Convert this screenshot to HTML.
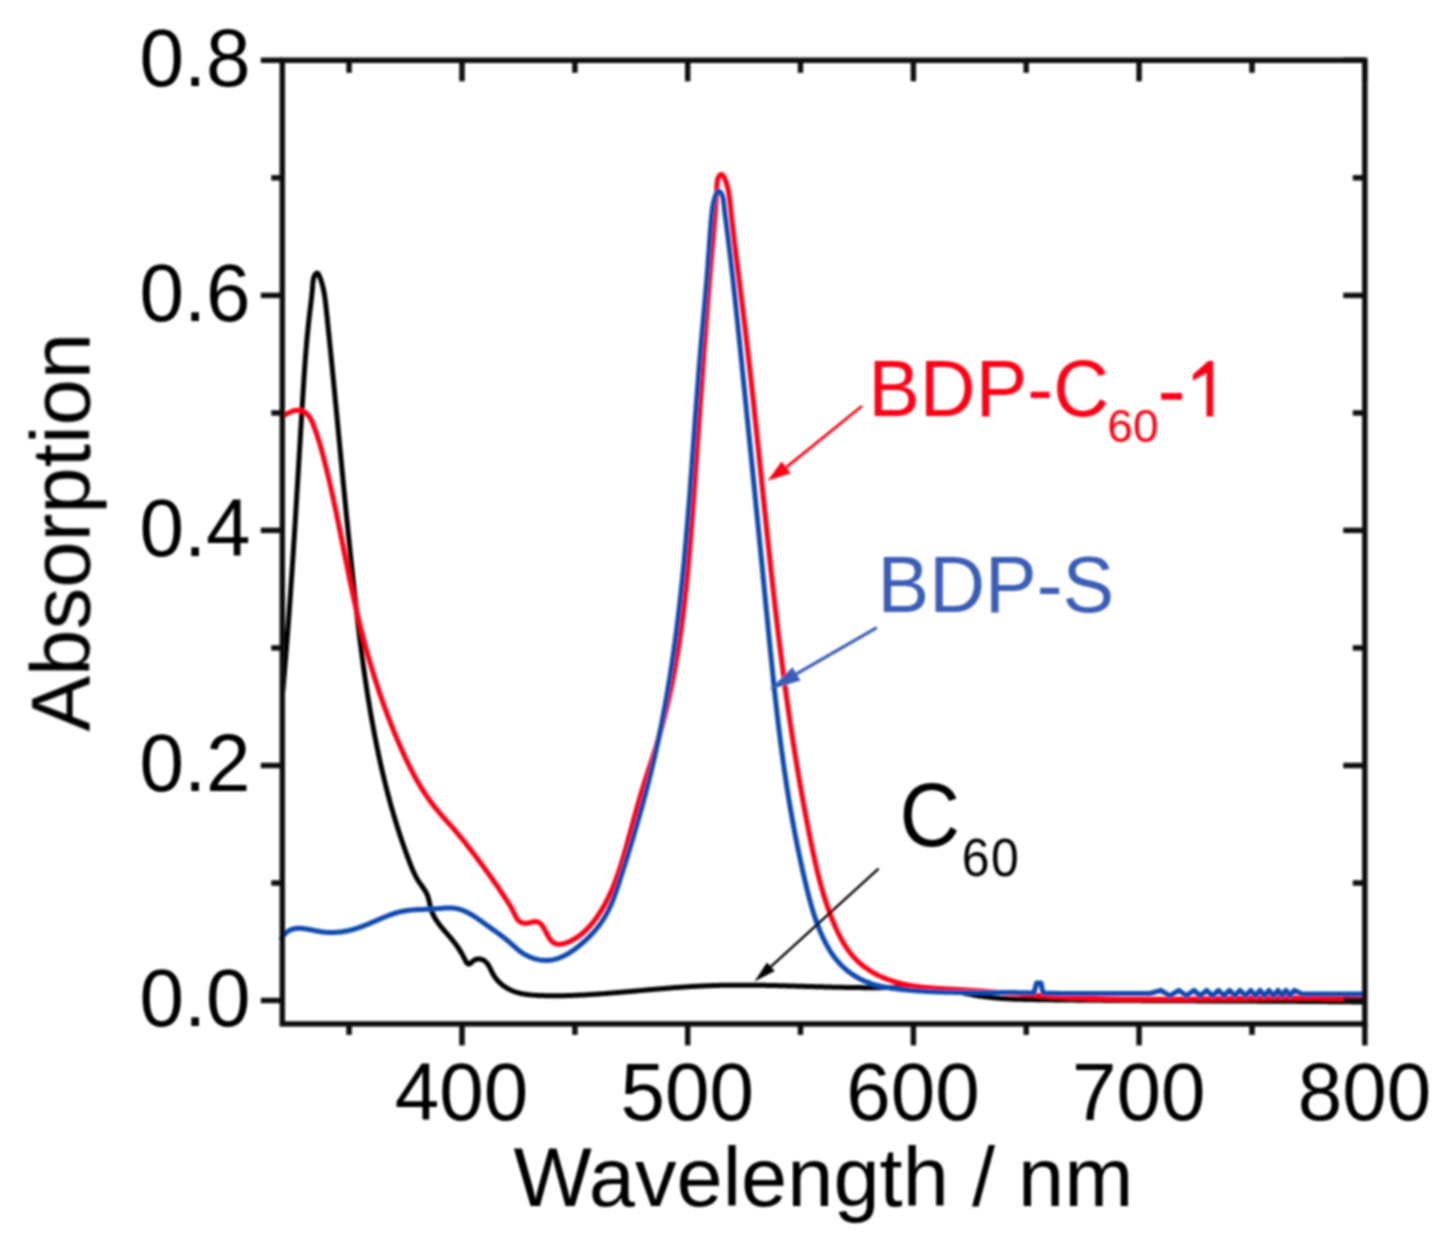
<!DOCTYPE html>
<html><head><meta charset="utf-8"><style>
html,body{margin:0;padding:0;background:#fff;}
body{width:1442px;height:1235px;overflow:hidden;font-family:"Liberation Sans",sans-serif;}
svg{display:block;}
</style></head><body>
<svg width="1442" height="1235" viewBox="0 0 1442 1235">
<defs><filter id="sf" x="-2%" y="-2%" width="104%" height="104%"><feGaussianBlur stdDeviation="0.80"/></filter></defs>
<rect width="100%" height="100%" fill="#fff"/>
<g filter="url(#sf)">
<g fill="none" stroke-linejoin="round" stroke-linecap="round">
<path d="M282.70,692.02 L282.83,690.52 L282.97,689.03 L283.10,687.53 L283.23,686.03 L283.36,684.54 L283.49,683.04 L283.62,681.54 L283.75,680.05 L283.88,678.55 L284.01,677.05 L284.14,675.56 L284.27,674.06 L284.40,672.56 L284.52,671.07 L284.65,669.57 L284.77,668.07 L284.90,666.58 L285.02,665.08 L285.15,663.59 L285.27,662.09 L285.40,660.60 L285.52,659.10 L285.64,657.60 L285.76,656.11 L285.88,654.61 L286.01,653.12 L286.13,651.62 L286.25,650.13 L286.37,648.63 L286.48,647.14 L286.60,645.64 L286.72,644.15 L286.84,642.65 L286.96,641.16 L287.07,639.66 L287.19,638.17 L287.30,636.67 L287.42,635.18 L287.53,633.68 L287.65,632.19 L287.76,630.69 L287.88,629.20 L287.99,627.70 L288.10,626.21 L288.22,624.71 L288.33,623.22 L288.44,621.72 L288.55,620.23 L288.66,618.73 L288.77,617.24 L288.88,615.74 L288.99,614.25 L289.10,612.76 L289.21,611.26 L289.32,609.77 L289.43,608.27 L289.54,606.78 L289.64,605.28 L289.75,603.79 L289.86,602.30 L289.96,600.80 L290.07,599.31 L290.18,597.81 L290.28,596.32 L290.39,594.82 L290.49,593.33 L290.60,591.84 L290.70,590.34 L290.80,588.85 L290.91,587.35 L291.01,585.86 L291.11,584.37 L291.22,582.87 L291.32,581.38 L291.42,579.88 L291.52,578.39 L291.62,576.90 L291.73,575.40 L291.83,573.91 L291.93,572.41 L292.03,570.92 L292.13,569.42 L292.23,567.93 L292.33,566.44 L292.43,564.94 L292.52,563.45 L292.62,561.95 L292.72,560.46 L292.82,558.97 L292.92,557.47 L293.02,555.98 L293.11,554.48 L293.21,552.99 L293.31,551.49 L293.40,550.00 L293.50,548.51 L293.60,547.01 L293.69,545.52 L293.79,544.02 L293.89,542.53 L293.98,541.03 L294.08,539.54 L294.17,538.05 L294.27,536.55 L294.36,535.06 L294.46,533.56 L294.55,532.07 L294.65,530.57 L294.74,529.08 L294.83,527.58 L294.93,526.09 L295.02,524.59 L295.11,523.10 L295.21,521.61 L295.30,520.11 L295.39,518.62 L295.49,517.12 L295.58,515.63 L295.67,514.13 L295.76,512.64 L295.86,511.14 L295.95,509.65 L296.04,508.15 L296.13,506.66 L296.22,505.16 L296.32,503.66 L296.41,502.17 L296.50,500.67 L296.59,499.18 L296.68,497.68 L296.77,496.19 L296.86,494.69 L296.96,493.20 L297.05,491.70 L297.14,490.20 L297.23,488.71 L297.32,487.21 L297.41,485.72 L297.50,484.22 L297.59,482.72 L297.68,481.23 L297.77,479.73 L297.86,478.24 L297.95,476.74 L298.04,475.24 L298.13,473.75 L298.22,472.25 L298.31,470.75 L298.40,469.26 L298.49,467.76 L298.58,466.26 L298.67,464.77 L298.76,463.27 L298.85,461.77 L298.94,460.27 L299.03,458.78 L299.12,457.28 L299.22,455.78 L299.31,454.28 L299.40,452.79 L299.49,451.29 L299.58,449.79 L299.67,448.29 L299.76,446.80 L299.85,445.30 L299.94,443.80 L300.03,442.30 L300.12,440.80 L300.21,439.30 L300.30,437.81 L300.39,436.31 L300.48,434.81 L300.57,433.31 L300.66,431.81 L300.75,430.31 L300.84,428.81 L300.93,427.31 L301.02,425.81 L301.12,424.31 L301.21,422.81 L301.30,421.31 L301.39,419.81 L301.48,418.31 L301.57,416.81 L301.66,415.31 L301.76,413.81 L301.85,412.31 L301.94,410.81 L302.03,409.31 L302.12,407.81 L302.22,406.31 L302.31,404.81 L302.40,403.31 L302.49,401.81 L302.59,400.31 L302.68,398.80 L302.77,397.30 L302.87,395.80 L302.96,394.30 L303.06,392.80 L303.15,391.30 L303.24,389.80 L303.34,388.29 L303.44,386.79 L303.53,385.29 L303.63,383.79 L303.73,382.29 L303.82,380.79 L303.92,379.29 L304.02,377.79 L304.12,376.29 L304.22,374.79 L304.32,373.29 L304.43,371.79 L304.53,370.29 L304.64,368.80 L304.74,367.30 L304.85,365.80 L304.96,364.31 L305.06,362.81 L305.17,361.32 L305.29,359.83 L305.40,358.33 L305.51,356.84 L305.63,355.35 L305.74,353.86 L305.86,352.37 L305.98,350.88 L306.10,349.39 L306.22,347.91 L306.35,346.42 L306.47,344.94 L306.60,343.45 L306.73,341.97 L306.86,340.49 L307.00,339.01 L307.13,337.53 L307.27,336.05 L307.40,334.58 L307.55,333.10 L307.69,331.63 L307.83,330.16 L307.98,328.68 L308.13,327.22 L308.28,325.75 L308.43,324.28 L308.59,322.82 L308.74,321.35 L308.90,319.89 L309.07,318.43 L309.23,316.97 L309.40,315.51 L309.57,314.06 L309.74,312.60 L309.92,311.15 L310.09,309.70 L310.27,308.25 L310.45,306.80 L310.64,305.34 L310.82,303.88 L311.00,302.40 L311.17,300.92 L311.35,299.42 L311.52,297.91 L311.69,296.38 L311.86,294.83 L312.02,293.26 L312.17,291.66 L312.32,290.04 L312.46,288.40 L312.59,286.72 L312.71,285.01 L312.84,283.29 L313.01,281.59 L313.24,279.94 L313.56,278.37 L313.98,276.91 L314.55,275.59 L315.28,274.44 L316.15,273.55 L317.05,273.13 L317.87,273.41 L318.56,274.32 L319.17,275.59 L319.74,276.94 L320.27,278.31 L320.77,279.69 L321.23,281.08 L321.67,282.48 L322.09,283.89 L322.47,285.31 L322.83,286.74 L323.17,288.17 L323.48,289.62 L323.78,291.07 L324.05,292.53 L324.31,294.00 L324.55,295.47 L324.78,296.94 L324.99,298.42 L325.19,299.91 L325.38,301.40 L325.56,302.89 L325.73,304.38 L325.90,305.88 L326.06,307.38 L326.22,308.88 L326.38,310.38 L326.54,311.87 L326.69,313.37 L326.85,314.87 L327.00,316.37 L327.16,317.87 L327.31,319.37 L327.47,320.87 L327.62,322.36 L327.78,323.86 L327.93,325.36 L328.08,326.86 L328.24,328.36 L328.39,329.85 L328.54,331.35 L328.70,332.85 L328.85,334.35 L329.00,335.84 L329.15,337.34 L329.30,338.84 L329.45,340.33 L329.61,341.83 L329.76,343.33 L329.91,344.82 L330.06,346.32 L330.21,347.82 L330.36,349.31 L330.51,350.81 L330.66,352.31 L330.81,353.80 L330.95,355.30 L331.10,356.79 L331.25,358.29 L331.40,359.78 L331.55,361.28 L331.70,362.77 L331.84,364.27 L331.99,365.76 L332.14,367.26 L332.29,368.75 L332.43,370.25 L332.58,371.74 L332.73,373.24 L332.87,374.73 L333.02,376.23 L333.17,377.72 L333.31,379.22 L333.46,380.71 L333.60,382.20 L333.75,383.70 L333.89,385.19 L334.04,386.69 L334.19,388.18 L334.33,389.67 L334.48,391.17 L334.62,392.66 L334.77,394.15 L334.91,395.65 L335.05,397.14 L335.20,398.63 L335.34,400.13 L335.49,401.62 L335.63,403.11 L335.78,404.60 L335.92,406.10 L336.06,407.59 L336.21,409.08 L336.35,410.57 L336.50,412.07 L336.64,413.56 L336.78,415.05 L336.93,416.54 L337.07,418.04 L337.21,419.53 L337.36,421.02 L337.50,422.51 L337.64,424.00 L337.79,425.50 L337.93,426.99 L338.07,428.48 L338.22,429.97 L338.36,431.46 L338.50,432.95 L338.64,434.45 L338.79,435.94 L338.93,437.43 L339.07,438.92 L339.22,440.41 L339.36,441.90 L339.50,443.39 L339.65,444.89 L339.79,446.38 L339.93,447.87 L340.08,449.36 L340.22,450.85 L340.36,452.34 L340.50,453.83 L340.65,455.32 L340.79,456.81 L340.93,458.30 L341.08,459.79 L341.22,461.28 L341.36,462.78 L341.51,464.27 L341.65,465.76 L341.80,467.25 L341.94,468.74 L342.08,470.23 L342.23,471.72 L342.37,473.21 L342.51,474.70 L342.66,476.19 L342.80,477.68 L342.95,479.17 L343.09,480.66 L343.24,482.15 L343.38,483.64 L343.52,485.13 L343.67,486.62 L343.81,488.11 L343.96,489.60 L344.10,491.09 L344.25,492.58 L344.40,494.07 L344.54,495.56 L344.69,497.05 L344.83,498.54 L344.98,500.03 L345.12,501.52 L345.27,503.01 L345.42,504.50 L345.56,505.99 L345.71,507.48 L345.86,508.97 L346.00,510.46 L346.15,511.95 L346.30,513.44 L346.45,514.93 L346.59,516.42 L346.74,517.91 L346.89,519.40 L347.04,520.89 L347.19,522.38 L347.34,523.87 L347.48,525.36 L347.63,526.85 L347.78,528.34 L347.93,529.83 L348.08,531.32 L348.23,532.81 L348.38,534.30 L348.53,535.79 L348.68,537.28 L348.84,538.77 L348.99,540.26 L349.14,541.75 L349.29,543.24 L349.44,544.73 L349.59,546.22 L349.75,547.71 L349.90,549.20 L350.05,550.69 L350.21,552.18 L350.36,553.67 L350.51,555.16 L350.67,556.65 L350.82,558.14 L350.98,559.63 L351.13,561.12 L351.29,562.61 L351.44,564.10 L351.60,565.59 L351.75,567.08 L351.91,568.57 L352.07,570.06 L352.22,571.55 L352.38,573.04 L352.54,574.53 L352.70,576.02 L352.86,577.51 L353.01,579.00 L353.17,580.49 L353.33,581.98 L353.49,583.47 L353.65,584.96 L353.81,586.45 L353.97,587.94 L354.14,589.43 L354.30,590.92 L354.46,592.42 L354.62,593.91 L354.79,595.40 L354.95,596.89 L355.11,598.38 L355.28,599.87 L355.44,601.36 L355.61,602.85 L355.78,604.34 L355.94,605.83 L356.11,607.32 L356.28,608.81 L356.45,610.30 L356.62,611.79 L356.79,613.28 L356.96,614.77 L357.13,616.26 L357.30,617.75 L357.47,619.24 L357.65,620.73 L357.82,622.22 L358.00,623.71 L358.17,625.20 L358.35,626.69 L358.53,628.18 L358.71,629.67 L358.89,631.16 L359.07,632.65 L359.25,634.14 L359.43,635.63 L359.61,637.12 L359.80,638.61 L359.98,640.10 L360.17,641.58 L360.36,643.07 L360.55,644.56 L360.73,646.05 L360.93,647.54 L361.12,649.03 L361.31,650.51 L361.50,652.00 L361.70,653.49 L361.89,654.98 L362.09,656.46 L362.29,657.95 L362.49,659.44 L362.69,660.92 L362.89,662.41 L363.09,663.89 L363.30,665.38 L363.50,666.87 L363.71,668.35 L363.92,669.84 L364.13,671.32 L364.34,672.81 L364.55,674.29 L364.76,675.78 L364.98,677.26 L365.19,678.74 L365.41,680.23 L365.63,681.71 L365.85,683.19 L366.07,684.68 L366.30,686.16 L366.52,687.64 L366.75,689.12 L366.97,690.61 L367.20,692.09 L367.44,693.57 L367.67,695.05 L367.90,696.53 L368.14,698.01 L368.38,699.49 L368.61,700.97 L368.86,702.45 L369.10,703.93 L369.34,705.41 L369.59,706.89 L369.84,708.36 L370.09,709.84 L370.34,711.32 L370.59,712.80 L370.84,714.27 L371.10,715.75 L371.36,717.23 L371.62,718.70 L371.88,720.18 L372.15,721.65 L372.41,723.13 L372.68,724.60 L372.95,726.07 L373.22,727.55 L373.49,729.02 L373.77,730.49 L374.05,731.97 L374.33,733.44 L374.61,734.91 L374.89,736.38 L375.18,737.85 L375.47,739.32 L375.75,740.79 L376.05,742.26 L376.34,743.73 L376.64,745.20 L376.94,746.67 L377.24,748.13 L377.54,749.60 L377.84,751.07 L378.15,752.54 L378.46,754.00 L378.77,755.47 L379.09,756.93 L379.40,758.40 L379.72,759.86 L380.04,761.32 L380.36,762.79 L380.69,764.25 L381.02,765.71 L381.35,767.17 L381.68,768.63 L382.02,770.09 L382.36,771.55 L382.70,773.01 L383.04,774.47 L383.38,775.93 L383.73,777.38 L384.08,778.84 L384.44,780.29 L384.79,781.75 L385.15,783.20 L385.51,784.66 L385.87,786.11 L386.24,787.56 L386.61,789.01 L386.98,790.46 L387.36,791.91 L387.73,793.36 L388.11,794.81 L388.50,796.26 L388.88,797.71 L389.27,799.15 L389.66,800.60 L390.05,802.04 L390.45,803.49 L390.85,804.93 L391.25,806.37 L391.66,807.81 L392.07,809.25 L392.48,810.69 L392.90,812.13 L393.31,813.57 L393.73,815.00 L394.16,816.44 L394.59,817.88 L395.02,819.31 L395.45,820.74 L395.88,822.17 L396.32,823.61 L396.77,825.04 L397.21,826.46 L397.66,827.89 L398.11,829.32 L398.57,830.75 L399.03,832.17 L399.49,833.59 L399.96,835.02 L400.43,836.44 L400.90,837.86 L401.37,839.28 L401.85,840.70 L402.33,842.11 L402.82,843.53 L403.31,844.95 L403.80,846.36 L404.30,847.77 L404.80,849.18 L405.30,850.60 L405.81,852.00 L406.32,853.41 L406.83,854.82 L407.35,856.23 L407.87,857.63 L408.39,859.03 L408.92,860.44 L409.45,861.84 L409.99,863.24 L410.53,864.63 L411.08,866.03 L411.64,867.42 L412.21,868.80 L412.79,870.18 L413.39,871.55 L414.01,872.91 L414.66,874.26 L415.33,875.60 L416.02,876.92 L416.75,878.23 L417.51,879.53 L418.30,880.80 L419.13,882.06 L419.99,883.31 L420.87,884.55 L421.75,885.78 L422.63,887.02 L423.49,888.26 L424.32,889.52 L425.12,890.79 L425.88,892.09 L426.57,893.41 L427.19,894.77 L427.74,896.16 L428.21,897.59 L428.63,899.04 L429.00,900.52 L429.35,902.01 L429.67,903.51 L430.00,905.01 L430.34,906.50 L430.70,907.98 L431.10,909.44 L431.56,910.88 L432.08,912.28 L432.66,913.66 L433.28,915.01 L433.96,916.34 L434.68,917.65 L435.44,918.93 L436.23,920.19 L437.07,921.43 L437.93,922.65 L438.82,923.86 L439.73,925.05 L440.66,926.23 L441.61,927.39 L442.57,928.54 L443.54,929.68 L444.52,930.82 L445.50,931.94 L446.47,933.06 L447.44,934.18 L448.40,935.29 L449.36,936.39 L450.30,937.51 L451.23,938.62 L452.15,939.74 L453.06,940.87 L453.96,942.01 L454.86,943.17 L455.74,944.34 L456.61,945.53 L457.47,946.75 L458.32,947.99 L459.15,949.25 L459.98,950.55 L460.80,951.88 L461.61,953.24 L462.40,954.65 L463.19,956.09 L463.96,957.57 L464.73,959.11 L465.48,960.64 L466.26,962.05 L467.07,963.20 L467.95,963.93 L468.90,964.12 L469.96,963.67 L471.11,962.78 L472.34,961.67 L473.65,960.59 L475.02,959.75 L476.44,959.21 L477.88,958.94 L479.32,958.93 L480.74,959.14 L482.12,959.56 L483.43,960.17 L484.65,960.95 L485.76,961.86 L486.75,962.90 L487.65,964.04 L488.47,965.27 L489.22,966.57 L489.93,967.92 L490.62,969.31 L491.29,970.71 L491.98,972.12 L492.69,973.52 L493.45,974.88 L494.27,976.20 L495.14,977.48 L496.07,978.71 L497.04,979.89 L498.06,981.04 L499.13,982.13 L500.24,983.18 L501.38,984.18 L502.56,985.13 L503.78,986.04 L505.02,986.90 L506.30,987.71 L507.59,988.47 L508.91,989.18 L510.25,989.84 L511.60,990.46 L512.97,991.02 L514.35,991.54 L515.75,992.02 L517.16,992.46 L518.58,992.85 L520.01,993.21 L521.46,993.54 L522.91,993.83 L524.37,994.09 L525.84,994.32 L527.32,994.53 L528.81,994.71 L530.30,994.87 L531.79,995.00 L533.29,995.12 L534.79,995.23 L536.29,995.31 L537.80,995.39 L539.30,995.46 L540.81,995.51 L542.32,995.56 L543.82,995.61 L545.32,995.65 L546.83,995.68 L548.33,995.70 L549.83,995.72 L551.33,995.74 L552.83,995.75 L554.33,995.75 L555.83,995.75 L557.33,995.74 L558.83,995.73 L560.33,995.71 L561.83,995.69 L563.32,995.67 L564.82,995.63 L566.32,995.60 L567.81,995.56 L569.31,995.51 L570.81,995.47 L572.30,995.41 L573.80,995.36 L575.29,995.30 L576.79,995.24 L578.28,995.17 L579.78,995.10 L581.27,995.03 L582.77,994.95 L584.26,994.88 L585.76,994.79 L587.25,994.71 L588.75,994.62 L590.24,994.53 L591.74,994.44 L593.23,994.35 L594.73,994.25 L596.22,994.15 L597.72,994.05 L599.21,993.95 L600.71,993.84 L602.20,993.74 L603.70,993.63 L605.19,993.52 L606.69,993.40 L608.18,993.29 L609.68,993.17 L611.18,993.06 L612.67,992.94 L614.17,992.82 L615.66,992.70 L617.16,992.57 L618.65,992.45 L620.15,992.32 L621.64,992.20 L623.14,992.07 L624.63,991.94 L626.13,991.81 L627.62,991.68 L629.12,991.55 L630.61,991.42 L632.11,991.29 L633.60,991.16 L635.10,991.03 L636.59,990.90 L638.09,990.76 L639.58,990.63 L641.08,990.50 L642.57,990.37 L644.07,990.23 L645.56,990.10 L647.06,989.97 L648.55,989.84 L650.05,989.71 L651.54,989.57 L653.04,989.44 L654.53,989.32 L656.03,989.19 L657.52,989.06 L659.02,988.93 L660.52,988.81 L662.01,988.68 L663.51,988.56 L665.00,988.43 L666.50,988.31 L667.99,988.19 L669.49,988.07 L670.98,987.96 L672.48,987.84 L673.97,987.72 L675.47,987.61 L676.97,987.50 L678.46,987.39 L679.96,987.29 L681.45,987.18 L682.95,987.08 L684.45,986.98 L685.94,986.88 L687.44,986.78 L688.93,986.69 L690.43,986.60 L691.92,986.51 L693.42,986.42 L694.92,986.34 L696.41,986.26 L697.91,986.18 L699.41,986.10 L700.90,986.03 L702.40,985.96 L703.89,985.90 L705.39,985.83 L706.89,985.77 L708.38,985.72 L709.88,985.66 L711.38,985.61 L712.87,985.56 L714.37,985.52 L715.87,985.48 L717.36,985.44 L718.86,985.40 L720.36,985.37 L721.85,985.34 L723.35,985.31 L724.85,985.28 L726.34,985.26 L727.84,985.24 L729.34,985.22 L730.83,985.20 L732.33,985.19 L733.83,985.18 L735.32,985.17 L736.82,985.16 L738.32,985.15 L739.82,985.15 L741.31,985.15 L742.81,985.15 L744.31,985.15 L745.81,985.16 L747.30,985.17 L748.80,985.17 L750.30,985.18 L751.80,985.20 L753.29,985.21 L754.79,985.23 L756.29,985.24 L757.79,985.26 L759.28,985.28 L760.78,985.30 L762.28,985.33 L763.78,985.35 L765.27,985.37 L766.77,985.40 L768.27,985.43 L769.77,985.46 L771.27,985.49 L772.76,985.52 L774.26,985.55 L775.76,985.59 L777.26,985.62 L778.76,985.66 L780.26,985.69 L781.75,985.73 L783.25,985.77 L784.75,985.80 L786.25,985.84 L787.75,985.88 L789.25,985.92 L790.74,985.96 L792.24,986.00 L793.74,986.05 L795.24,986.09 L796.74,986.13 L798.24,986.17 L799.74,986.22 L801.23,986.26 L802.73,986.30 L804.23,986.35 L805.73,986.39 L807.23,986.43 L808.73,986.48 L810.23,986.52 L811.73,986.56 L813.22,986.61 L814.72,986.65 L816.22,986.69 L817.72,986.73 L819.22,986.78 L820.72,986.82 L822.22,986.86 L823.72,986.90 L825.22,986.94 L826.72,986.98 L828.22,987.02 L829.72,987.06 L831.22,987.09 L832.71,987.13 L834.21,987.17 L835.71,987.20 L837.21,987.24 L838.71,987.27 L840.21,987.30 L841.71,987.33 L843.21,987.36 L844.71,987.39 L846.21,987.42 L847.71,987.45 L849.21,987.47 L850.71,987.50 L852.21,987.52 L853.71,987.54 L855.21,987.56 L856.71,987.58 L858.21,987.59 L859.71,987.61 L861.21,987.62 L862.71,987.64 L864.21,987.65 L865.71,987.65 L867.21,987.66 L868.71,987.67 L870.21,987.67 L871.71,987.67 L873.21,987.67 L874.71,987.66 L876.21,987.66 L877.71,987.65 L879.21,987.64 L880.71,987.63 L882.21,987.62 L883.71,987.60 L885.21,987.59 L886.71,987.58 L888.21,987.56 L889.71,987.54 L891.21,987.53 L892.71,987.52 L894.21,987.50 L895.71,987.49 L897.21,987.48 L898.71,987.47 L900.21,987.46 L901.71,987.46 L903.21,987.46 L904.71,987.46 L906.20,987.47 L907.70,987.47 L909.20,987.49 L910.69,987.50 L912.19,987.52 L913.69,987.55 L915.18,987.58 L916.68,987.62 L918.17,987.66 L919.67,987.71 L921.16,987.76 L922.65,987.83 L924.15,987.89 L925.64,987.97 L927.13,988.05 L928.62,988.14 L930.11,988.24 L931.60,988.35 L933.09,988.47 L934.58,988.59 L936.07,988.73 L937.55,988.87 L939.04,989.02 L940.53,989.19 L942.01,989.36 L943.49,989.55 L944.98,989.75 L946.46,989.95 L947.94,990.17 L949.42,990.40 L950.90,990.65 L952.38,990.90 L953.86,991.17 L955.34,991.44 L956.82,991.73 L958.29,992.01 L959.77,992.31 L961.25,992.60 L962.72,992.90 L964.20,993.20 L965.68,993.50 L967.16,993.79 L968.63,994.09 L970.11,994.37 L971.59,994.66 L973.07,994.93 L974.55,995.20 L976.03,995.45 L977.51,995.70 L978.99,995.93 L980.47,996.16 L981.96,996.37 L983.44,996.58 L984.93,996.77 L986.41,996.96 L987.90,997.14 L989.39,997.31 L990.88,997.47 L992.37,997.62 L993.85,997.77 L995.34,997.91 L996.84,998.04 L998.33,998.16 L999.82,998.28 L1001.31,998.39 L1002.80,998.50 L1004.30,998.59 L1005.79,998.69 L1007.28,998.77 L1008.78,998.85 L1010.27,998.93 L1011.77,999.00 L1013.26,999.06 L1014.76,999.13 L1016.26,999.18 L1017.75,999.24 L1019.25,999.29 L1020.75,999.33 L1022.25,999.37 L1023.74,999.41 L1025.24,999.45 L1026.74,999.48 L1028.24,999.51 L1029.74,999.54 L1031.24,999.57 L1032.73,999.60 L1034.23,999.62 L1035.73,999.65 L1037.23,999.67 L1038.73,999.69 L1040.23,999.71 L1041.73,999.73 L1043.23,999.75 L1044.73,999.77 L1046.23,999.79 L1047.72,999.81 L1049.22,999.83 L1050.72,999.85 L1052.22,999.87 L1053.72,999.89 L1055.22,999.91 L1056.72,999.92 L1058.22,999.94 L1059.72,999.96 L1061.22,999.98 L1062.71,999.99 L1064.21,1000.01 L1065.71,1000.03 L1067.21,1000.04 L1068.71,1000.06 L1070.21,1000.08 L1071.71,1000.09 L1073.21,1000.11 L1074.71,1000.12 L1076.21,1000.14 L1077.70,1000.15 L1079.20,1000.17 L1080.70,1000.18 L1082.20,1000.20 L1083.70,1000.21 L1085.20,1000.23 L1086.70,1000.24 L1088.20,1000.25 L1089.70,1000.27 L1091.20,1000.28 L1092.69,1000.29 L1094.19,1000.31 L1095.69,1000.32 L1097.19,1000.33 L1098.69,1000.34 L1100.19,1000.35 L1101.69,1000.37 L1103.19,1000.38 L1104.69,1000.39 L1106.19,1000.40 L1107.68,1000.41 L1109.18,1000.42 L1110.68,1000.43 L1112.18,1000.44 L1113.68,1000.45 L1115.18,1000.47 L1116.68,1000.48 L1118.18,1000.49 L1119.68,1000.50 L1121.18,1000.51 L1122.67,1000.52 L1124.17,1000.52 L1125.67,1000.53 L1127.17,1000.54 L1128.67,1000.55 L1130.17,1000.56 L1131.67,1000.57 L1133.17,1000.58 L1134.67,1000.59 L1136.17,1000.60 L1137.66,1000.60 L1139.16,1000.61 L1140.66,1000.62 L1142.16,1000.63 L1143.66,1000.64 L1145.16,1000.65 L1146.66,1000.65 L1148.16,1000.66 L1149.66,1000.67 L1151.16,1000.68 L1152.65,1000.68 L1154.15,1000.69 L1155.65,1000.70 L1157.15,1000.70 L1158.65,1000.71 L1160.15,1000.72 L1161.65,1000.73 L1163.15,1000.73 L1164.65,1000.74 L1166.14,1000.75 L1167.64,1000.75 L1169.14,1000.76 L1170.64,1000.77 L1172.14,1000.77 L1173.64,1000.78 L1175.14,1000.79 L1176.64,1000.79 L1178.14,1000.80 L1179.64,1000.80 L1181.13,1000.81 L1182.63,1000.82 L1184.13,1000.82 L1185.63,1000.83 L1187.13,1000.83 L1188.63,1000.84 L1190.13,1000.85 L1191.63,1000.85 L1193.13,1000.86 L1194.62,1000.86 L1196.12,1000.87 L1197.62,1000.88 L1199.12,1000.88 L1200.62,1000.89 L1202.12,1000.89 L1203.62,1000.90 L1205.12,1000.91 L1206.62,1000.91 L1208.12,1000.92 L1209.61,1000.92 L1211.11,1000.93 L1212.61,1000.94 L1214.11,1000.94 L1215.61,1000.95 L1217.11,1000.95 L1218.61,1000.96 L1220.11,1000.97 L1221.61,1000.97 L1223.10,1000.98 L1224.60,1000.98 L1226.10,1000.99 L1227.60,1001.00 L1229.10,1001.00 L1230.60,1001.01 L1232.10,1001.02 L1233.60,1001.02 L1235.10,1001.03 L1236.59,1001.03 L1238.09,1001.04 L1239.59,1001.05 L1241.09,1001.05 L1242.59,1001.06 L1244.09,1001.07 L1245.59,1001.07 L1247.09,1001.08 L1248.59,1001.09 L1250.08,1001.10 L1251.58,1001.10 L1253.08,1001.11 L1254.58,1001.12 L1256.08,1001.12 L1257.58,1001.13 L1259.08,1001.14 L1260.58,1001.15 L1262.08,1001.16 L1263.57,1001.16 L1265.07,1001.17 L1266.57,1001.18 L1268.07,1001.19 L1269.57,1001.20 L1271.07,1001.20 L1272.57,1001.21 L1274.07,1001.22 L1275.57,1001.23 L1277.06,1001.24 L1278.56,1001.25 L1280.06,1001.26 L1281.56,1001.27 L1283.06,1001.28 L1284.56,1001.28 L1286.06,1001.29 L1287.56,1001.30 L1289.06,1001.31 L1290.55,1001.32 L1292.05,1001.33 L1293.55,1001.34 L1295.05,1001.36 L1296.55,1001.37 L1298.05,1001.38 L1299.55,1001.39 L1301.05,1001.40 L1302.55,1001.41 L1304.04,1001.42 L1305.54,1001.43 L1307.04,1001.45 L1308.54,1001.46 L1310.04,1001.47 L1311.54,1001.48 L1313.04,1001.49 L1314.54,1001.51 L1316.04,1001.52 L1317.53,1001.53 L1319.03,1001.55 L1320.53,1001.56 L1322.03,1001.57 L1323.53,1001.59 L1325.03,1001.60 L1326.53,1001.62 L1328.03,1001.63 L1329.53,1001.64 L1331.02,1001.66 L1332.52,1001.67 L1334.02,1001.69 L1335.52,1001.71 L1337.02,1001.72 L1338.52,1001.74 L1340.02,1001.75 L1341.52,1001.77 L1343.02,1001.79 L1344.51,1001.80 L1346.01,1001.82 L1347.51,1001.84 L1349.01,1001.86 L1350.51,1001.87 L1352.01,1001.89 L1353.51,1001.91 L1355.01,1001.93 L1356.51,1001.95 L1358.00,1001.97 L1359.50,1001.99 L1361.00,1002.01 L1362.50,1002.03 L1364.00,1002.05" stroke="#000000" stroke-width="5.0"/>
<path d="M282.51,416.00 L283.78,415.43 L285.08,414.78 L286.41,414.07 L287.77,413.34 L289.16,412.63 L290.57,411.95 L292.00,411.35 L293.46,410.86 L294.94,410.50 L296.45,410.31 L297.95,410.29 L299.45,410.42 L300.91,410.70 L302.33,411.13 L303.67,411.71 L304.93,412.41 L306.09,413.24 L307.15,414.18 L308.13,415.22 L309.02,416.36 L309.84,417.57 L310.60,418.85 L311.30,420.19 L311.96,421.57 L312.57,422.99 L313.16,424.43 L313.73,425.87 L314.28,427.32 L314.82,428.77 L315.34,430.21 L315.85,431.66 L316.35,433.10 L316.84,434.54 L317.32,435.99 L317.79,437.43 L318.25,438.87 L318.69,440.31 L319.13,441.75 L319.57,443.19 L319.99,444.63 L320.41,446.07 L320.82,447.52 L321.22,448.96 L321.62,450.40 L322.01,451.84 L322.40,453.28 L322.78,454.73 L323.16,456.17 L323.54,457.61 L323.91,459.06 L324.29,460.50 L324.65,461.95 L325.02,463.40 L325.39,464.85 L325.75,466.29 L326.11,467.74 L326.46,469.19 L326.82,470.65 L327.17,472.10 L327.52,473.55 L327.87,475.00 L328.21,476.46 L328.55,477.91 L328.90,479.37 L329.23,480.82 L329.57,482.28 L329.91,483.74 L330.24,485.19 L330.57,486.65 L330.90,488.11 L331.23,489.57 L331.56,491.03 L331.88,492.49 L332.20,493.95 L332.53,495.41 L332.85,496.88 L333.16,498.34 L333.48,499.80 L333.80,501.26 L334.11,502.73 L334.42,504.19 L334.74,505.66 L335.05,507.12 L335.36,508.59 L335.66,510.05 L335.97,511.52 L336.28,512.99 L336.58,514.45 L336.89,515.92 L337.19,517.39 L337.49,518.86 L337.79,520.33 L338.09,521.79 L338.39,523.26 L338.69,524.73 L338.99,526.20 L339.29,527.67 L339.59,529.14 L339.88,530.61 L340.18,532.08 L340.48,533.55 L340.77,535.02 L341.07,536.49 L341.36,537.96 L341.66,539.43 L341.95,540.91 L342.25,542.38 L342.54,543.85 L342.83,545.32 L343.13,546.79 L343.42,548.26 L343.72,549.73 L344.01,551.21 L344.31,552.68 L344.60,554.15 L344.90,555.62 L345.19,557.09 L345.49,558.56 L345.78,560.04 L346.08,561.51 L346.38,562.98 L346.67,564.45 L346.97,565.92 L347.27,567.39 L347.57,568.86 L347.87,570.34 L348.17,571.81 L348.47,573.28 L348.77,574.75 L349.07,576.22 L349.38,577.69 L349.68,579.16 L349.99,580.63 L350.30,582.10 L350.60,583.57 L350.91,585.04 L351.22,586.50 L351.53,587.97 L351.85,589.44 L352.16,590.91 L352.48,592.38 L352.79,593.84 L353.11,595.31 L353.43,596.78 L353.75,598.24 L354.07,599.71 L354.40,601.18 L354.72,602.64 L355.05,604.11 L355.38,605.57 L355.71,607.03 L356.04,608.50 L356.38,609.96 L356.71,611.42 L357.05,612.88 L357.39,614.35 L357.74,615.81 L358.08,617.27 L358.43,618.73 L358.78,620.19 L359.13,621.64 L359.48,623.10 L359.84,624.56 L360.20,626.02 L360.56,627.47 L360.92,628.93 L361.28,630.38 L361.65,631.84 L362.02,633.29 L362.39,634.75 L362.77,636.20 L363.14,637.65 L363.52,639.10 L363.90,640.55 L364.29,642.00 L364.67,643.45 L365.06,644.90 L365.45,646.35 L365.85,647.80 L366.24,649.24 L366.64,650.69 L367.04,652.13 L367.45,653.58 L367.85,655.02 L368.26,656.46 L368.67,657.91 L369.09,659.35 L369.50,660.79 L369.92,662.23 L370.34,663.66 L370.77,665.10 L371.20,666.54 L371.63,667.98 L372.06,669.41 L372.49,670.85 L372.93,672.28 L373.37,673.71 L373.82,675.14 L374.26,676.57 L374.71,678.00 L375.16,679.43 L375.62,680.86 L376.07,682.29 L376.53,683.72 L377.00,685.14 L377.46,686.57 L377.93,687.99 L378.40,689.41 L378.88,690.83 L379.36,692.25 L379.84,693.67 L380.32,695.09 L380.81,696.51 L381.29,697.93 L381.79,699.34 L382.28,700.76 L382.78,702.17 L383.28,703.58 L383.79,704.99 L384.29,706.40 L384.80,707.81 L385.32,709.22 L385.83,710.63 L386.35,712.03 L386.88,713.44 L387.40,714.84 L387.93,716.24 L388.46,717.65 L389.00,719.05 L389.54,720.44 L390.08,721.84 L390.62,723.24 L391.17,724.63 L391.72,726.03 L392.28,727.42 L392.84,728.81 L393.40,730.20 L393.96,731.59 L394.53,732.98 L395.10,734.37 L395.68,735.75 L396.26,737.14 L396.84,738.52 L397.42,739.90 L398.01,741.28 L398.60,742.66 L399.20,744.04 L399.80,745.42 L400.40,746.79 L401.00,748.17 L401.61,749.54 L402.23,750.91 L402.84,752.28 L403.46,753.65 L404.09,755.02 L404.71,756.38 L405.35,757.74 L405.98,759.10 L406.63,760.46 L407.27,761.82 L407.92,763.17 L408.58,764.52 L409.24,765.86 L409.91,767.21 L410.59,768.55 L411.26,769.89 L411.95,771.22 L412.64,772.55 L413.34,773.88 L414.04,775.20 L414.76,776.52 L415.47,777.83 L416.20,779.14 L416.93,780.44 L417.67,781.74 L418.42,783.04 L419.17,784.33 L419.94,785.61 L420.71,786.89 L421.49,788.17 L422.28,789.44 L423.07,790.70 L423.88,791.96 L424.69,793.21 L425.51,794.45 L426.35,795.69 L427.19,796.93 L428.04,798.15 L428.90,799.37 L429.77,800.58 L430.65,801.79 L431.54,802.99 L432.44,804.18 L433.36,805.36 L434.28,806.54 L435.21,807.71 L436.16,808.87 L437.11,810.02 L438.07,811.17 L439.03,812.32 L440.01,813.46 L440.99,814.59 L441.97,815.73 L442.96,816.85 L443.96,817.98 L444.95,819.10 L445.95,820.22 L446.95,821.34 L447.95,822.46 L448.95,823.58 L449.95,824.70 L450.94,825.83 L451.94,826.95 L452.93,828.07 L453.92,829.20 L454.90,830.33 L455.88,831.46 L456.85,832.60 L457.81,833.74 L458.77,834.88 L459.73,836.03 L460.68,837.18 L461.62,838.33 L462.56,839.49 L463.50,840.65 L464.43,841.81 L465.36,842.98 L466.29,844.15 L467.21,845.32 L468.12,846.50 L469.04,847.68 L469.95,848.86 L470.86,850.04 L471.77,851.22 L472.67,852.41 L473.58,853.60 L474.48,854.80 L475.38,855.99 L476.28,857.19 L477.18,858.39 L478.07,859.59 L478.97,860.79 L479.86,861.99 L480.76,863.20 L481.65,864.41 L482.54,865.62 L483.43,866.83 L484.32,868.04 L485.20,869.26 L486.09,870.48 L486.97,871.69 L487.85,872.91 L488.73,874.13 L489.60,875.36 L490.48,876.58 L491.35,877.80 L492.22,879.03 L493.08,880.26 L493.95,881.48 L494.81,882.71 L495.66,883.94 L496.52,885.17 L497.37,886.41 L498.22,887.64 L499.07,888.87 L499.91,890.11 L500.75,891.34 L501.58,892.58 L502.41,893.81 L503.24,895.05 L504.06,896.29 L504.88,897.53 L505.70,898.76 L506.51,900.00 L507.32,901.24 L508.12,902.49 L508.91,903.74 L509.69,905.01 L510.46,906.31 L511.22,907.62 L511.97,908.97 L512.69,910.35 L513.40,911.77 L514.09,913.22 L514.79,914.69 L515.50,916.13 L516.25,917.52 L517.06,918.82 L517.95,920.00 L518.93,921.03 L520.03,921.88 L521.26,922.51 L522.61,922.93 L524.05,923.16 L525.57,923.22 L527.12,923.11 L528.70,922.86 L530.28,922.51 L531.83,922.13 L533.33,921.80 L534.77,921.59 L536.12,921.59 L537.37,921.84 L538.52,922.31 L539.60,922.99 L540.60,923.85 L541.54,924.87 L542.43,926.02 L543.27,927.29 L544.08,928.64 L544.87,930.06 L545.65,931.52 L546.42,933.01 L547.19,934.48 L547.98,935.94 L548.80,937.34 L549.65,938.67 L550.54,939.90 L551.49,941.02 L552.50,941.99 L553.59,942.80 L554.75,943.43 L556.00,943.87 L557.31,944.14 L558.68,944.25 L560.09,944.22 L561.55,944.05 L563.04,943.77 L564.54,943.37 L566.06,942.88 L567.58,942.31 L569.09,941.67 L570.58,940.96 L572.04,940.22 L573.47,939.44 L574.85,938.63 L576.19,937.80 L577.50,936.94 L578.76,936.06 L579.99,935.16 L581.19,934.24 L582.35,933.29 L583.49,932.33 L584.59,931.34 L585.67,930.33 L586.72,929.30 L587.75,928.26 L588.76,927.20 L589.74,926.11 L590.71,925.01 L591.66,923.90 L592.60,922.77 L593.52,921.62 L594.43,920.46 L595.32,919.28 L596.19,918.09 L597.05,916.89 L597.90,915.67 L598.73,914.44 L599.55,913.19 L600.36,911.94 L601.15,910.67 L601.92,909.40 L602.69,908.11 L603.44,906.81 L604.18,905.50 L604.90,904.19 L605.61,902.86 L606.31,901.53 L607.00,900.19 L607.67,898.84 L608.34,897.49 L608.99,896.13 L609.63,894.77 L610.26,893.40 L610.87,892.02 L611.48,890.64 L612.07,889.26 L612.66,887.87 L613.23,886.48 L613.80,885.09 L614.35,883.69 L614.90,882.29 L615.43,880.89 L615.96,879.48 L616.48,878.07 L616.99,876.66 L617.49,875.25 L617.98,873.84 L618.47,872.42 L618.95,871.00 L619.42,869.57 L619.89,868.15 L620.35,866.72 L620.80,865.30 L621.25,863.87 L621.70,862.43 L622.13,861.00 L622.57,859.57 L622.99,858.13 L623.42,856.69 L623.84,855.26 L624.26,853.82 L624.67,852.38 L625.08,850.94 L625.49,849.49 L625.89,848.05 L626.29,846.61 L626.69,845.17 L627.09,843.72 L627.49,842.28 L627.89,840.84 L628.28,839.39 L628.68,837.95 L629.07,836.51 L629.47,835.06 L629.86,833.62 L630.26,832.18 L630.65,830.74 L631.04,829.29 L631.44,827.85 L631.83,826.41 L632.23,824.97 L632.62,823.52 L633.02,822.08 L633.41,820.64 L633.81,819.20 L634.21,817.76 L634.61,816.32 L635.01,814.88 L635.41,813.44 L635.81,811.99 L636.21,810.55 L636.62,809.12 L637.02,807.68 L637.43,806.24 L637.84,804.80 L638.25,803.36 L638.67,801.92 L639.08,800.48 L639.50,799.04 L639.92,797.61 L640.34,796.17 L640.76,794.73 L641.19,793.30 L641.62,791.86 L642.05,790.42 L642.49,788.99 L642.92,787.55 L643.36,786.12 L643.81,784.68 L644.25,783.25 L644.70,781.81 L645.16,780.38 L645.61,778.95 L646.07,777.52 L646.53,776.08 L647.00,774.65 L647.47,773.22 L647.93,771.79 L648.40,770.36 L648.88,768.92 L649.35,767.49 L649.82,766.06 L650.29,764.63 L650.76,763.20 L651.23,761.77 L651.71,760.33 L652.17,758.90 L652.64,757.47 L653.11,756.03 L653.57,754.60 L654.03,753.16 L654.49,751.73 L654.94,750.29 L655.39,748.86 L655.83,747.42 L656.28,745.98 L656.71,744.54 L657.15,743.10 L657.58,741.66 L658.01,740.22 L658.43,738.78 L658.85,737.33 L659.26,735.89 L659.68,734.45 L660.08,733.00 L660.49,731.56 L660.89,730.11 L661.29,728.66 L661.68,727.22 L662.07,725.77 L662.46,724.32 L662.84,722.87 L663.22,721.42 L663.60,719.97 L663.97,718.52 L664.34,717.07 L664.71,715.61 L665.07,714.16 L665.43,712.71 L665.78,711.25 L666.14,709.80 L666.49,708.34 L666.83,706.88 L667.18,705.43 L667.52,703.97 L667.85,702.51 L668.19,701.05 L668.52,699.59 L668.84,698.13 L669.17,696.67 L669.49,695.21 L669.81,693.75 L670.12,692.29 L670.43,690.82 L670.74,689.36 L671.05,687.90 L671.35,686.43 L671.65,684.97 L671.95,683.50 L672.24,682.03 L672.54,680.57 L672.82,679.10 L673.11,677.63 L673.39,676.16 L673.67,674.69 L673.95,673.22 L674.23,671.76 L674.50,670.28 L674.77,668.81 L675.03,667.34 L675.30,665.87 L675.56,664.40 L675.82,662.93 L676.07,661.45 L676.33,659.98 L676.58,658.50 L676.83,657.03 L677.08,655.55 L677.32,654.08 L677.56,652.60 L677.80,651.13 L678.04,649.65 L678.27,648.17 L678.50,646.69 L678.73,645.21 L678.96,643.74 L679.18,642.26 L679.41,640.78 L679.63,639.30 L679.85,637.82 L680.06,636.34 L680.28,634.85 L680.49,633.37 L680.70,631.89 L680.90,630.41 L681.11,628.93 L681.31,627.44 L681.51,625.96 L681.71,624.48 L681.91,622.99 L682.11,621.51 L682.30,620.02 L682.49,618.54 L682.68,617.05 L682.87,615.57 L683.05,614.08 L683.24,612.59 L683.42,611.11 L683.60,609.62 L683.78,608.13 L683.96,606.64 L684.13,605.15 L684.30,603.67 L684.48,602.18 L684.65,600.69 L684.81,599.20 L684.98,597.71 L685.15,596.22 L685.31,594.73 L685.47,593.24 L685.63,591.75 L685.79,590.26 L685.95,588.76 L686.10,587.27 L686.26,585.78 L686.41,584.29 L686.56,582.80 L686.71,581.30 L686.86,579.81 L687.01,578.32 L687.16,576.83 L687.30,575.33 L687.45,573.84 L687.59,572.34 L687.73,570.85 L687.87,569.36 L688.01,567.86 L688.15,566.37 L688.28,564.87 L688.42,563.38 L688.55,561.88 L688.69,560.39 L688.82,558.89 L688.95,557.40 L689.08,555.90 L689.21,554.40 L689.34,552.91 L689.46,551.41 L689.59,549.91 L689.72,548.42 L689.84,546.92 L689.97,545.42 L690.09,543.93 L690.21,542.43 L690.33,540.93 L690.45,539.44 L690.57,537.94 L690.69,536.44 L690.81,534.94 L690.93,533.44 L691.05,531.95 L691.16,530.45 L691.28,528.95 L691.39,527.45 L691.51,525.95 L691.62,524.46 L691.74,522.96 L691.85,521.46 L691.96,519.96 L692.07,518.46 L692.19,516.96 L692.30,515.47 L692.41,513.97 L692.52,512.47 L692.63,510.97 L692.74,509.47 L692.85,507.97 L692.96,506.47 L693.07,504.97 L693.18,503.48 L693.29,501.98 L693.39,500.48 L693.50,498.98 L693.61,497.48 L693.72,495.98 L693.83,494.48 L693.93,492.98 L694.04,491.49 L694.15,489.99 L694.26,488.49 L694.36,486.99 L694.47,485.49 L694.58,483.99 L694.69,482.49 L694.79,481.00 L694.90,479.50 L695.01,478.00 L695.11,476.50 L695.22,475.00 L695.33,473.50 L695.43,472.00 L695.54,470.51 L695.64,469.01 L695.75,467.51 L695.86,466.01 L695.96,464.51 L696.07,463.01 L696.17,461.52 L696.28,460.02 L696.38,458.52 L696.49,457.02 L696.60,455.52 L696.70,454.03 L696.81,452.53 L696.91,451.03 L697.02,449.53 L697.12,448.03 L697.23,446.54 L697.33,445.04 L697.44,443.54 L697.54,442.04 L697.65,440.54 L697.75,439.05 L697.86,437.55 L697.96,436.05 L698.07,434.55 L698.17,433.06 L698.28,431.56 L698.38,430.06 L698.49,428.56 L698.59,427.07 L698.70,425.57 L698.80,424.07 L698.91,422.57 L699.01,421.08 L699.12,419.58 L699.22,418.08 L699.33,416.59 L699.43,415.09 L699.54,413.59 L699.64,412.09 L699.75,410.60 L699.85,409.10 L699.96,407.60 L700.07,406.11 L700.17,404.61 L700.28,403.11 L700.38,401.62 L700.49,400.12 L700.59,398.63 L700.70,397.13 L700.81,395.63 L700.91,394.14 L701.02,392.64 L701.12,391.14 L701.23,389.65 L701.34,388.15 L701.44,386.66 L701.55,385.16 L701.66,383.66 L701.76,382.17 L701.87,380.67 L701.98,379.18 L702.08,377.68 L702.19,376.19 L702.30,374.69 L702.41,373.20 L702.51,371.70 L702.62,370.21 L702.73,368.71 L702.84,367.22 L702.95,365.72 L703.05,364.23 L703.16,362.73 L703.27,361.24 L703.38,359.74 L703.49,358.25 L703.60,356.75 L703.71,355.26 L703.82,353.76 L703.93,352.27 L704.03,350.78 L704.14,349.28 L704.25,347.79 L704.37,346.29 L704.48,344.80 L704.59,343.31 L704.70,341.81 L704.81,340.32 L704.92,338.83 L705.03,337.33 L705.14,335.84 L705.25,334.35 L705.37,332.85 L705.48,331.36 L705.59,329.87 L705.70,328.37 L705.82,326.88 L705.93,325.39 L706.04,323.90 L706.16,322.40 L706.27,320.91 L706.38,319.42 L706.50,317.93 L706.61,316.44 L706.73,314.94 L706.84,313.45 L706.96,311.96 L707.07,310.47 L707.19,308.98 L707.31,307.49 L707.42,305.99 L707.54,304.50 L707.66,303.01 L707.77,301.52 L707.89,300.03 L708.01,298.54 L708.13,297.05 L708.25,295.56 L708.36,294.07 L708.48,292.58 L708.60,291.09 L708.72,289.60 L708.84,288.11 L708.96,286.62 L709.08,285.13 L709.20,283.64 L709.32,282.15 L709.45,280.66 L709.57,279.17 L709.69,277.68 L709.81,276.19 L709.94,274.70 L710.06,273.21 L710.18,271.73 L710.31,270.24 L710.43,268.75 L710.55,267.26 L710.68,265.77 L710.80,264.28 L710.93,262.80 L711.06,261.31 L711.18,259.82 L711.31,258.33 L711.44,256.84 L711.56,255.36 L711.69,253.87 L711.82,252.38 L711.95,250.90 L712.08,249.41 L712.21,247.92 L712.34,246.44 L712.47,244.95 L712.60,243.46 L712.73,241.97 L712.86,240.49 L712.99,239.00 L713.12,237.51 L713.25,236.02 L713.38,234.52 L713.51,233.03 L713.63,231.54 L713.76,230.04 L713.89,228.54 L714.02,227.04 L714.14,225.54 L714.27,224.04 L714.39,222.53 L714.51,221.02 L714.64,219.51 L714.76,218.00 L714.88,216.48 L715.00,214.97 L715.11,213.44 L715.23,211.92 L715.34,210.39 L715.46,208.86 L715.57,207.33 L715.68,205.79 L715.78,204.25 L715.89,202.70 L715.99,201.15 L716.09,199.60 L716.19,198.04 L716.29,196.48 L716.39,194.91 L716.48,193.34 L716.57,191.76 L716.66,190.18 L716.74,188.60 L716.83,187.00 L716.91,185.41 L717.01,183.83 L717.15,182.28 L717.35,180.79 L717.64,179.37 L718.04,178.05 L718.58,176.85 L719.27,175.79 L720.10,174.94 L721.00,174.45 L721.85,174.49 L722.63,175.11 L723.32,176.10 L723.97,177.25 L724.56,178.45 L725.12,179.68 L725.64,180.96 L726.11,182.27 L726.56,183.62 L726.97,184.99 L727.35,186.39 L727.69,187.83 L728.02,189.28 L728.31,190.76 L728.59,192.25 L728.84,193.76 L729.08,195.29 L729.30,196.83 L729.50,198.38 L729.69,199.94 L729.87,201.50 L730.05,203.07 L730.22,204.63 L730.38,206.20 L730.55,207.76 L730.71,209.31 L730.88,210.86 L731.04,212.40 L731.21,213.94 L731.37,215.47 L731.54,217.00 L731.71,218.52 L731.88,220.04 L732.05,221.55 L732.22,223.06 L732.39,224.56 L732.56,226.06 L732.73,227.56 L732.91,229.05 L733.08,230.54 L733.25,232.03 L733.43,233.51 L733.60,234.99 L733.78,236.47 L733.95,237.95 L734.13,239.43 L734.31,240.90 L734.48,242.37 L734.66,243.84 L734.84,245.31 L735.02,246.78 L735.20,248.25 L735.38,249.72 L735.56,251.19 L735.74,252.66 L735.92,254.13 L736.10,255.60 L736.28,257.08 L736.47,258.55 L736.65,260.02 L736.83,261.50 L737.01,262.97 L737.20,264.45 L737.38,265.92 L737.56,267.40 L737.75,268.88 L737.93,270.36 L738.12,271.84 L738.30,273.32 L738.49,274.80 L738.67,276.28 L738.86,277.76 L739.04,279.25 L739.23,280.73 L739.41,282.21 L739.60,283.70 L739.78,285.18 L739.97,286.67 L740.15,288.16 L740.34,289.64 L740.52,291.13 L740.71,292.62 L740.89,294.11 L741.08,295.59 L741.26,297.08 L741.45,298.57 L741.63,300.06 L741.82,301.55 L742.00,303.04 L742.19,304.53 L742.37,306.02 L742.55,307.51 L742.74,309.01 L742.92,310.50 L743.10,311.99 L743.29,313.48 L743.47,314.97 L743.65,316.47 L743.83,317.96 L744.01,319.45 L744.20,320.94 L744.38,322.44 L744.56,323.93 L744.74,325.42 L744.92,326.91 L745.09,328.41 L745.27,329.90 L745.45,331.39 L745.63,332.89 L745.81,334.38 L745.98,335.87 L746.16,337.36 L746.33,338.86 L746.51,340.35 L746.68,341.84 L746.86,343.33 L747.03,344.83 L747.20,346.32 L747.38,347.81 L747.55,349.30 L747.72,350.80 L747.89,352.29 L748.06,353.78 L748.24,355.27 L748.41,356.77 L748.58,358.26 L748.74,359.75 L748.91,361.24 L749.08,362.74 L749.25,364.23 L749.42,365.72 L749.59,367.21 L749.75,368.70 L749.92,370.20 L750.09,371.69 L750.25,373.18 L750.42,374.67 L750.58,376.17 L750.75,377.66 L750.91,379.15 L751.08,380.64 L751.24,382.13 L751.41,383.62 L751.57,385.12 L751.73,386.61 L751.90,388.10 L752.06,389.59 L752.22,391.08 L752.38,392.58 L752.54,394.07 L752.70,395.56 L752.87,397.05 L753.03,398.54 L753.19,400.03 L753.35,401.53 L753.51,403.02 L753.67,404.51 L753.83,406.00 L753.99,407.49 L754.14,408.98 L754.30,410.47 L754.46,411.97 L754.62,413.46 L754.78,414.95 L754.94,416.44 L755.09,417.93 L755.25,419.42 L755.41,420.91 L755.57,422.41 L755.72,423.90 L755.88,425.39 L756.04,426.88 L756.19,428.37 L756.35,429.86 L756.50,431.35 L756.66,432.84 L756.82,434.34 L756.97,435.83 L757.13,437.32 L757.28,438.81 L757.44,440.30 L757.59,441.79 L757.75,443.28 L757.90,444.77 L758.06,446.26 L758.21,447.75 L758.37,449.25 L758.52,450.74 L758.67,452.23 L758.83,453.72 L758.98,455.21 L759.14,456.70 L759.29,458.19 L759.44,459.68 L759.60,461.17 L759.75,462.66 L759.91,464.15 L760.06,465.64 L760.21,467.13 L760.37,468.63 L760.52,470.12 L760.67,471.61 L760.83,473.10 L760.98,474.59 L761.13,476.08 L761.29,477.57 L761.44,479.06 L761.59,480.55 L761.75,482.04 L761.90,483.53 L762.05,485.02 L762.21,486.51 L762.36,488.00 L762.52,489.49 L762.67,490.98 L762.82,492.47 L762.98,493.96 L763.13,495.46 L763.28,496.95 L763.44,498.44 L763.59,499.93 L763.75,501.42 L763.90,502.91 L764.05,504.40 L764.21,505.89 L764.36,507.38 L764.52,508.87 L764.67,510.36 L764.83,511.85 L764.98,513.34 L765.14,514.83 L765.29,516.32 L765.45,517.81 L765.60,519.30 L765.76,520.79 L765.91,522.28 L766.07,523.77 L766.22,525.26 L766.38,526.75 L766.53,528.24 L766.69,529.73 L766.85,531.22 L767.00,532.71 L767.16,534.20 L767.32,535.69 L767.47,537.18 L767.63,538.67 L767.79,540.16 L767.95,541.65 L768.10,543.14 L768.26,544.63 L768.42,546.12 L768.58,547.61 L768.74,549.10 L768.90,550.59 L769.06,552.08 L769.22,553.57 L769.38,555.06 L769.54,556.55 L769.70,558.04 L769.86,559.53 L770.02,561.02 L770.18,562.51 L770.34,564.00 L770.50,565.49 L770.66,566.98 L770.83,568.47 L770.99,569.96 L771.15,571.45 L771.32,572.94 L771.48,574.43 L771.64,575.92 L771.81,577.41 L771.97,578.90 L772.14,580.39 L772.30,581.88 L772.47,583.37 L772.63,584.86 L772.80,586.35 L772.97,587.84 L773.13,589.33 L773.30,590.81 L773.47,592.30 L773.63,593.79 L773.80,595.28 L773.97,596.77 L774.14,598.26 L774.31,599.75 L774.48,601.24 L774.65,602.73 L774.82,604.22 L774.99,605.71 L775.16,607.20 L775.34,608.69 L775.51,610.18 L775.68,611.67 L775.86,613.16 L776.03,614.65 L776.20,616.14 L776.38,617.63 L776.55,619.12 L776.73,620.61 L776.91,622.10 L777.08,623.59 L777.26,625.08 L777.44,626.57 L777.61,628.06 L777.79,629.54 L777.97,631.03 L778.15,632.52 L778.33,634.01 L778.51,635.50 L778.69,636.99 L778.88,638.48 L779.06,639.97 L779.24,641.46 L779.42,642.95 L779.61,644.44 L779.79,645.93 L779.98,647.42 L780.16,648.91 L780.35,650.40 L780.53,651.88 L780.72,653.37 L780.91,654.86 L781.10,656.35 L781.29,657.84 L781.48,659.33 L781.67,660.82 L781.86,662.31 L782.05,663.80 L782.24,665.28 L782.43,666.77 L782.63,668.26 L782.82,669.75 L783.01,671.24 L783.21,672.73 L783.40,674.21 L783.60,675.70 L783.80,677.19 L783.99,678.68 L784.19,680.17 L784.39,681.65 L784.59,683.14 L784.79,684.63 L784.99,686.12 L785.19,687.60 L785.40,689.09 L785.60,690.58 L785.80,692.06 L786.01,693.55 L786.21,695.04 L786.42,696.53 L786.62,698.01 L786.83,699.50 L787.04,700.99 L787.25,702.47 L787.46,703.96 L787.67,705.44 L787.88,706.93 L788.09,708.42 L788.30,709.90 L788.51,711.39 L788.73,712.87 L788.94,714.36 L789.16,715.84 L789.37,717.33 L789.59,718.81 L789.81,720.30 L790.03,721.78 L790.25,723.27 L790.47,724.75 L790.69,726.24 L790.91,727.72 L791.13,729.20 L791.36,730.69 L791.58,732.17 L791.80,733.66 L792.03,735.14 L792.26,736.62 L792.48,738.11 L792.71,739.59 L792.94,741.07 L793.17,742.55 L793.40,744.04 L793.63,745.52 L793.87,747.00 L794.10,748.48 L794.33,749.96 L794.57,751.45 L794.80,752.93 L795.04,754.41 L795.28,755.89 L795.52,757.37 L795.76,758.85 L796.00,760.33 L796.24,761.81 L796.48,763.29 L796.73,764.77 L796.97,766.25 L797.22,767.73 L797.46,769.21 L797.71,770.69 L797.96,772.17 L798.21,773.65 L798.45,775.13 L798.71,776.60 L798.96,778.08 L799.21,779.56 L799.46,781.04 L799.72,782.51 L799.97,783.99 L800.23,785.47 L800.49,786.95 L800.75,788.42 L801.01,789.90 L801.27,791.37 L801.53,792.85 L801.79,794.33 L802.06,795.80 L802.32,797.28 L802.59,798.75 L802.85,800.23 L803.12,801.70 L803.39,803.17 L803.66,804.65 L803.93,806.12 L804.20,807.60 L804.48,809.07 L804.75,810.54 L805.03,812.01 L805.30,813.49 L805.58,814.96 L805.86,816.43 L806.14,817.90 L806.42,819.37 L806.70,820.84 L806.98,822.31 L807.27,823.78 L807.55,825.26 L807.84,826.73 L808.13,828.19 L808.41,829.66 L808.70,831.13 L808.99,832.60 L809.29,834.07 L809.58,835.54 L809.87,837.01 L810.17,838.47 L810.47,839.94 L810.76,841.41 L811.06,842.88 L811.36,844.34 L811.66,845.81 L811.97,847.27 L812.27,848.74 L812.58,850.20 L812.89,851.67 L813.20,853.13 L813.51,854.59 L813.83,856.06 L814.15,857.52 L814.47,858.98 L814.79,860.44 L815.12,861.90 L815.45,863.36 L815.78,864.82 L816.12,866.28 L816.46,867.73 L816.80,869.19 L817.15,870.64 L817.50,872.10 L817.86,873.55 L818.22,875.00 L818.58,876.45 L818.95,877.90 L819.32,879.35 L819.70,880.80 L820.08,882.25 L820.47,883.69 L820.86,885.14 L821.26,886.58 L821.67,888.02 L822.08,889.46 L822.49,890.90 L822.91,892.34 L823.34,893.78 L823.77,895.21 L824.21,896.65 L824.65,898.08 L825.10,899.51 L825.56,900.94 L826.03,902.37 L826.50,903.79 L826.98,905.22 L827.46,906.64 L827.96,908.06 L828.46,909.48 L828.96,910.90 L829.48,912.31 L830.00,913.73 L830.54,915.14 L831.08,916.55 L831.62,917.96 L832.18,919.36 L832.74,920.77 L833.32,922.17 L833.90,923.57 L834.49,924.97 L835.09,926.36 L835.70,927.75 L836.33,929.14 L836.96,930.52 L837.60,931.89 L838.26,933.26 L838.93,934.62 L839.61,935.97 L840.31,937.32 L841.02,938.65 L841.75,939.97 L842.49,941.29 L843.24,942.59 L844.01,943.88 L844.80,945.16 L845.61,946.42 L846.43,947.67 L847.27,948.91 L848.13,950.13 L849.01,951.33 L849.90,952.52 L850.82,953.69 L851.76,954.84 L852.71,955.98 L853.69,957.09 L854.69,958.18 L855.72,959.26 L856.76,960.31 L857.83,961.34 L858.92,962.35 L860.03,963.34 L861.16,964.31 L862.32,965.25 L863.49,966.18 L864.68,967.08 L865.89,967.96 L867.11,968.82 L868.35,969.66 L869.61,970.48 L870.88,971.27 L872.17,972.05 L873.47,972.80 L874.79,973.54 L876.11,974.25 L877.45,974.94 L878.80,975.62 L880.16,976.27 L881.53,976.90 L882.90,977.51 L884.29,978.10 L885.68,978.66 L887.08,979.21 L888.49,979.74 L889.90,980.25 L891.32,980.73 L892.74,981.20 L894.16,981.65 L895.59,982.08 L897.03,982.49 L898.46,982.88 L899.91,983.26 L901.35,983.61 L902.80,983.95 L904.25,984.28 L905.71,984.59 L907.17,984.88 L908.63,985.17 L910.09,985.43 L911.56,985.68 L913.03,985.92 L914.51,986.15 L915.98,986.37 L917.46,986.57 L918.94,986.76 L920.42,986.95 L921.91,987.12 L923.40,987.28 L924.89,987.44 L926.38,987.58 L927.87,987.72 L929.37,987.85 L930.86,987.97 L932.36,988.09 L933.86,988.20 L935.36,988.30 L936.86,988.40 L938.36,988.50 L939.87,988.59 L941.37,988.68 L942.88,988.76 L944.38,988.84 L945.89,988.92 L947.39,989.00 L948.90,989.08 L950.40,989.16 L951.91,989.23 L953.42,989.31 L954.92,989.39 L956.43,989.47 L957.93,989.55 L959.44,989.64 L960.94,989.72 L962.44,989.81 L963.95,989.90 L965.45,989.99 L966.95,990.09 L968.45,990.18 L969.95,990.28 L971.45,990.38 L972.95,990.48 L974.45,990.58 L975.95,990.69 L977.45,990.79 L978.95,990.90 L980.45,991.00 L981.95,991.11 L983.45,991.22 L984.94,991.33 L986.44,991.45 L987.94,991.56 L989.43,991.67 L990.93,991.79 L992.43,991.91 L993.92,992.02 L995.42,992.14 L996.91,992.26 L998.41,992.38 L999.90,992.49 L1001.39,992.61 L1002.89,992.73 L1004.38,992.85 L1005.88,992.97 L1007.37,993.09 L1008.86,993.22 L1010.36,993.34 L1011.85,993.46 L1013.34,993.58 L1014.83,993.70 L1016.33,993.82 L1017.82,993.94 L1019.31,994.06 L1020.80,994.18 L1022.30,994.30 L1023.79,994.42 L1025.28,994.54 L1026.77,994.65 L1028.26,994.77 L1029.76,994.89 L1031.25,995.00 L1032.74,995.12 L1034.23,995.23 L1035.72,995.35 L1037.21,995.46 L1038.71,995.57 L1040.20,995.68 L1041.69,995.79 L1043.18,995.89 L1044.67,996.00 L1046.17,996.11 L1047.66,996.21 L1049.15,996.31 L1050.64,996.41 L1052.14,996.51 L1053.63,996.61 L1055.12,996.70 L1056.61,996.80 L1058.11,996.89 L1059.60,996.98 L1061.09,997.07 L1062.59,997.15 L1064.08,997.24 L1065.58,997.32 L1067.07,997.40 L1068.56,997.48 L1070.06,997.55 L1071.55,997.63 L1073.05,997.70 L1074.54,997.77 L1076.04,997.84 L1077.53,997.91 L1079.03,997.97 L1080.52,998.03 L1082.02,998.10 L1083.51,998.16 L1085.01,998.21 L1086.51,998.27 L1088.00,998.33 L1089.50,998.38 L1091.00,998.43 L1092.49,998.48 L1093.99,998.53 L1095.49,998.58 L1096.98,998.62 L1098.48,998.67 L1099.98,998.71 L1101.48,998.75 L1102.97,998.79 L1104.47,998.83 L1105.97,998.86 L1107.47,998.90 L1108.97,998.93 L1110.46,998.97 L1111.96,999.00 L1113.46,999.03 L1114.96,999.05 L1116.46,999.08 L1117.96,999.11 L1119.46,999.13 L1120.95,999.15 L1122.45,999.18 L1123.95,999.20 L1125.45,999.22 L1126.95,999.23 L1128.45,999.25 L1129.95,999.27 L1131.45,999.28 L1132.95,999.29 L1134.45,999.31 L1135.95,999.32 L1137.45,999.33 L1138.95,999.34 L1140.45,999.35 L1141.95,999.35 L1143.45,999.36 L1144.95,999.36 L1146.45,999.37 L1147.95,999.37 L1149.45,999.37 L1150.96,999.37 L1152.46,999.37 L1153.96,999.37 L1155.46,999.37 L1156.96,999.37 L1158.46,999.37 L1159.96,999.36 L1161.46,999.36 L1162.96,999.35 L1164.47,999.35 L1165.97,999.34 L1167.47,999.33 L1168.97,999.33 L1170.47,999.32 L1171.97,999.31 L1173.48,999.30 L1174.98,999.29 L1176.48,999.28 L1177.98,999.26 L1179.48,999.25 L1180.98,999.24 L1182.49,999.22 L1183.99,999.21 L1185.49,999.20 L1186.99,999.18 L1188.50,999.16 L1190.00,999.15 L1191.50,999.13 L1193.00,999.12 L1194.50,999.10 L1196.01,999.08 L1197.51,999.06 L1199.01,999.04 L1200.51,999.03 L1202.02,999.01 L1203.52,998.99 L1205.02,998.97 L1206.52,998.95 L1208.02,998.93 L1209.53,998.91 L1211.03,998.89 L1212.53,998.87 L1214.03,998.85 L1215.54,998.83 L1217.04,998.81 L1218.54,998.78 L1220.04,998.76 L1221.55,998.74 L1223.05,998.72 L1224.55,998.70 L1226.05,998.68 L1227.56,998.66 L1229.06,998.64 L1230.56,998.62 L1232.06,998.59 L1233.56,998.57 L1235.07,998.55 L1236.57,998.53 L1238.07,998.51 L1239.57,998.49 L1241.08,998.47 L1242.58,998.45 L1244.08,998.43 L1245.58,998.41 L1247.08,998.39 L1248.59,998.37 L1250.09,998.35 L1251.59,998.33 L1253.09,998.31 L1254.59,998.30 L1256.09,998.28 L1257.60,998.26 L1259.10,998.24 L1260.60,998.23 L1262.10,998.21 L1263.60,998.20 L1265.10,998.18 L1266.61,998.17 L1268.11,998.15 L1269.61,998.14 L1271.11,998.13 L1272.61,998.11 L1274.11,998.10 L1275.61,998.09 L1277.11,998.08 L1278.61,998.07 L1280.12,998.06 L1281.62,998.05 L1283.12,998.04 L1284.62,998.03 L1286.12,998.03 L1287.62,998.02 L1289.12,998.01 L1290.62,998.01 L1292.12,998.01 L1293.62,998.00 L1295.12,998.00 L1296.62,998.00 L1298.12,998.00 L1299.62,998.00 L1301.12,998.00 L1302.62,998.00 L1304.12,998.00 L1305.62,998.01 L1307.11,998.01 L1308.61,998.02 L1310.11,998.03 L1311.61,998.03 L1313.11,998.04 L1314.61,998.05 L1316.11,998.06 L1317.61,998.08 L1319.10,998.09 L1320.60,998.10 L1322.10,998.12 L1323.60,998.14 L1325.10,998.15 L1326.59,998.17 L1328.09,998.19 L1329.59,998.21 L1331.09,998.24 L1332.58,998.26 L1334.08,998.29 L1335.58,998.31 L1337.07,998.34 L1338.57,998.37 L1340.07,998.40 L1341.56,998.43 L1343.06,998.46 L1344.55,998.50 L1346.05,998.54 L1347.55,998.57 L1349.04,998.61 L1350.54,998.65 L1352.03,998.69 L1353.53,998.74 L1355.02,998.78 L1356.52,998.83 L1358.01,998.88 L1359.51,998.93 L1361.00,998.98 L1362.49,999.03 L1363.99,999.09" stroke="#ff0012" stroke-width="5.0"/>
<path d="M281.48,938.31 L282.50,936.75 L283.56,935.35 L284.65,934.10 L285.79,932.99 L286.95,932.02 L288.16,931.18 L289.39,930.46 L290.65,929.86 L291.94,929.37 L293.26,928.98 L294.61,928.69 L295.98,928.48 L297.37,928.36 L298.78,928.31 L300.21,928.33 L301.66,928.41 L303.12,928.54 L304.60,928.72 L306.09,928.94 L307.59,929.19 L309.10,929.47 L310.62,929.76 L312.15,930.07 L313.68,930.39 L315.21,930.70 L316.74,931.00 L318.28,931.29 L319.81,931.56 L321.34,931.79 L322.86,931.99 L324.38,932.16 L325.90,932.30 L327.41,932.40 L328.91,932.47 L330.41,932.51 L331.91,932.51 L333.40,932.49 L334.89,932.43 L336.37,932.35 L337.85,932.24 L339.32,932.10 L340.79,931.93 L342.26,931.73 L343.72,931.51 L345.17,931.26 L346.63,930.98 L348.07,930.68 L349.52,930.36 L350.96,930.01 L352.39,929.63 L353.82,929.24 L355.25,928.82 L356.67,928.38 L358.09,927.92 L359.50,927.43 L360.91,926.93 L362.32,926.41 L363.72,925.88 L365.12,925.33 L366.52,924.76 L367.91,924.19 L369.30,923.61 L370.70,923.02 L372.09,922.42 L373.47,921.82 L374.86,921.22 L376.25,920.61 L377.64,920.01 L379.03,919.41 L380.42,918.81 L381.81,918.22 L383.20,917.64 L384.59,917.06 L385.99,916.50 L387.38,915.95 L388.78,915.41 L390.19,914.89 L391.59,914.39 L393.00,913.90 L394.41,913.44 L395.83,913.00 L397.25,912.58 L398.68,912.19 L400.11,911.83 L401.55,911.50 L402.99,911.19 L404.44,910.92 L405.90,910.68 L407.36,910.47 L408.83,910.29 L410.30,910.13 L411.78,909.99 L413.26,909.87 L414.75,909.77 L416.24,909.68 L417.74,909.61 L419.24,909.54 L420.74,909.49 L422.25,909.44 L423.76,909.39 L425.28,909.34 L426.80,909.30 L428.32,909.24 L429.84,909.19 L431.37,909.12 L432.90,909.05 L434.43,908.96 L435.96,908.86 L437.49,908.74 L439.03,908.60 L440.56,908.46 L442.09,908.32 L443.62,908.19 L445.14,908.07 L446.66,907.98 L448.16,907.92 L449.66,907.89 L451.14,907.92 L452.61,908.00 L454.07,908.14 L455.51,908.35 L456.93,908.62 L458.34,908.94 L459.74,909.33 L461.12,909.76 L462.49,910.25 L463.85,910.79 L465.20,911.37 L466.53,911.99 L467.86,912.65 L469.17,913.35 L470.48,914.07 L471.78,914.83 L473.06,915.62 L474.34,916.43 L475.62,917.26 L476.88,918.11 L478.14,918.98 L479.40,919.86 L480.65,920.74 L481.90,921.64 L483.14,922.54 L484.38,923.44 L485.61,924.33 L486.85,925.23 L488.08,926.11 L489.31,926.99 L490.54,927.87 L491.76,928.74 L492.98,929.61 L494.20,930.47 L495.41,931.34 L496.62,932.21 L497.82,933.08 L499.01,933.96 L500.21,934.84 L501.39,935.73 L502.57,936.62 L503.74,937.52 L504.90,938.44 L506.05,939.36 L507.20,940.29 L508.33,941.24 L509.46,942.20 L510.58,943.18 L511.69,944.17 L512.80,945.17 L513.90,946.17 L515.02,947.17 L516.14,948.15 L517.28,949.12 L518.44,950.07 L519.62,951.00 L520.84,951.89 L522.08,952.74 L523.35,953.56 L524.65,954.33 L525.98,955.07 L527.32,955.76 L528.69,956.41 L530.08,957.02 L531.48,957.58 L532.90,958.10 L534.33,958.56 L535.77,958.98 L537.22,959.34 L538.68,959.66 L540.14,959.92 L541.61,960.12 L543.08,960.27 L544.54,960.36 L546.00,960.40 L547.46,960.37 L548.91,960.28 L550.34,960.14 L551.77,959.93 L553.20,959.66 L554.61,959.34 L556.01,958.97 L557.40,958.54 L558.78,958.07 L560.15,957.55 L561.51,956.98 L562.86,956.38 L564.20,955.73 L565.53,955.04 L566.85,954.32 L568.15,953.56 L569.45,952.78 L570.73,951.96 L572.01,951.12 L573.27,950.25 L574.52,949.36 L575.75,948.44 L576.98,947.51 L578.19,946.57 L579.39,945.61 L580.58,944.63 L581.75,943.64 L582.91,942.64 L584.06,941.63 L585.19,940.61 L586.31,939.57 L587.42,938.52 L588.51,937.46 L589.58,936.38 L590.64,935.30 L591.68,934.20 L592.71,933.09 L593.72,931.96 L594.71,930.83 L595.69,929.68 L596.64,928.52 L597.58,927.35 L598.50,926.17 L599.40,924.98 L600.28,923.77 L601.15,922.55 L601.99,921.32 L602.81,920.08 L603.61,918.83 L604.39,917.57 L605.15,916.30 L605.89,915.01 L606.61,913.71 L607.30,912.41 L607.98,911.09 L608.64,909.77 L609.29,908.43 L609.91,907.09 L610.52,905.74 L611.12,904.38 L611.70,903.01 L612.27,901.64 L612.82,900.26 L613.36,898.87 L613.90,897.48 L614.42,896.08 L614.93,894.68 L615.44,893.27 L615.93,891.86 L616.42,890.45 L616.90,889.03 L617.38,887.61 L617.86,886.19 L618.32,884.76 L618.79,883.34 L619.25,881.91 L619.72,880.48 L620.18,879.05 L620.64,877.63 L621.10,876.20 L621.56,874.77 L622.01,873.34 L622.47,871.91 L622.93,870.48 L623.38,869.04 L623.83,867.61 L624.29,866.18 L624.74,864.75 L625.19,863.32 L625.64,861.88 L626.09,860.45 L626.53,859.01 L626.98,857.58 L627.43,856.15 L627.87,854.71 L628.31,853.27 L628.75,851.84 L629.19,850.40 L629.63,848.96 L630.07,847.53 L630.51,846.09 L630.94,844.65 L631.38,843.21 L631.81,841.77 L632.24,840.34 L632.68,838.90 L633.10,837.46 L633.53,836.02 L633.96,834.57 L634.39,833.13 L634.81,831.69 L635.23,830.25 L635.65,828.81 L636.07,827.36 L636.49,825.92 L636.91,824.48 L637.33,823.03 L637.74,821.59 L638.15,820.14 L638.57,818.70 L638.98,817.25 L639.38,815.81 L639.79,814.36 L640.20,812.92 L640.60,811.47 L641.00,810.02 L641.40,808.57 L641.80,807.13 L642.20,805.68 L642.60,804.23 L642.99,802.78 L643.39,801.33 L643.78,799.88 L644.17,798.43 L644.55,796.98 L644.94,795.53 L645.33,794.08 L645.71,792.62 L646.09,791.17 L646.47,789.72 L646.85,788.27 L647.22,786.81 L647.60,785.36 L647.97,783.90 L648.34,782.45 L648.71,780.99 L649.08,779.54 L649.44,778.08 L649.81,776.63 L650.17,775.17 L650.53,773.72 L650.89,772.26 L651.24,770.80 L651.60,769.34 L651.95,767.88 L652.30,766.43 L652.65,764.97 L652.99,763.51 L653.34,762.05 L653.68,760.59 L654.02,759.13 L654.36,757.67 L654.70,756.21 L655.03,754.75 L655.36,753.28 L655.69,751.82 L656.02,750.36 L656.35,748.90 L656.67,747.43 L656.99,745.97 L657.31,744.51 L657.63,743.04 L657.94,741.58 L658.26,740.11 L658.57,738.65 L658.88,737.18 L659.19,735.72 L659.49,734.25 L659.80,732.78 L660.10,731.32 L660.40,729.85 L660.69,728.38 L660.99,726.91 L661.28,725.45 L661.57,723.98 L661.86,722.51 L662.15,721.04 L662.44,719.57 L662.72,718.10 L663.01,716.63 L663.29,715.16 L663.56,713.69 L663.84,712.22 L664.12,710.75 L664.39,709.27 L664.66,707.80 L664.93,706.33 L665.20,704.86 L665.46,703.38 L665.73,701.91 L665.99,700.44 L666.25,698.96 L666.51,697.49 L666.76,696.02 L667.02,694.54 L667.27,693.07 L667.53,691.59 L667.78,690.12 L668.02,688.64 L668.27,687.16 L668.52,685.69 L668.76,684.21 L669.00,682.73 L669.24,681.26 L669.48,679.78 L669.72,678.30 L669.95,676.82 L670.19,675.35 L670.42,673.87 L670.65,672.39 L670.88,670.91 L671.10,669.43 L671.33,667.95 L671.55,666.47 L671.78,664.99 L672.00,663.51 L672.22,662.03 L672.44,660.55 L672.65,659.07 L672.87,657.59 L673.08,656.11 L673.29,654.63 L673.51,653.14 L673.72,651.66 L673.92,650.18 L674.13,648.70 L674.34,647.21 L674.54,645.73 L674.74,644.25 L674.94,642.76 L675.14,641.28 L675.34,639.80 L675.54,638.31 L675.73,636.83 L675.93,635.34 L676.12,633.86 L676.31,632.37 L676.50,630.89 L676.69,629.40 L676.88,627.92 L677.07,626.43 L677.25,624.95 L677.44,623.46 L677.62,621.97 L677.80,620.49 L677.98,619.00 L678.16,617.51 L678.34,616.03 L678.51,614.54 L678.69,613.05 L678.86,611.56 L679.04,610.07 L679.21,608.59 L679.38,607.10 L679.55,605.61 L679.72,604.12 L679.89,602.63 L680.05,601.14 L680.22,599.65 L680.38,598.16 L680.55,596.67 L680.71,595.19 L680.87,593.70 L681.03,592.21 L681.19,590.71 L681.35,589.22 L681.51,587.73 L681.66,586.24 L681.82,584.75 L681.97,583.26 L682.13,581.77 L682.28,580.28 L682.43,578.79 L682.58,577.30 L682.73,575.80 L682.88,574.31 L683.03,572.82 L683.17,571.33 L683.32,569.84 L683.46,568.34 L683.61,566.85 L683.75,565.36 L683.89,563.87 L684.04,562.37 L684.18,560.88 L684.32,559.39 L684.46,557.89 L684.59,556.40 L684.73,554.91 L684.87,553.41 L685.01,551.92 L685.14,550.43 L685.28,548.93 L685.41,547.44 L685.54,545.94 L685.68,544.45 L685.81,542.95 L685.94,541.46 L686.07,539.97 L686.20,538.47 L686.33,536.98 L686.46,535.48 L686.58,533.99 L686.71,532.49 L686.84,531.00 L686.96,529.50 L687.09,528.00 L687.21,526.51 L687.34,525.01 L687.46,523.52 L687.59,522.02 L687.71,520.53 L687.83,519.03 L687.95,517.54 L688.07,516.04 L688.19,514.54 L688.31,513.05 L688.43,511.55 L688.55,510.05 L688.67,508.56 L688.79,507.06 L688.91,505.57 L689.02,504.07 L689.14,502.57 L689.26,501.08 L689.37,499.58 L689.49,498.08 L689.60,496.59 L689.72,495.09 L689.83,493.59 L689.95,492.10 L690.06,490.60 L690.17,489.10 L690.29,487.61 L690.40,486.11 L690.51,484.61 L690.62,483.11 L690.73,481.62 L690.85,480.12 L690.96,478.62 L691.07,477.13 L691.18,475.63 L691.29,474.13 L691.40,472.63 L691.51,471.14 L691.62,469.64 L691.73,468.14 L691.84,466.64 L691.95,465.15 L692.06,463.65 L692.17,462.15 L692.28,460.66 L692.38,459.16 L692.49,457.66 L692.60,456.16 L692.71,454.67 L692.82,453.17 L692.93,451.67 L693.03,450.17 L693.14,448.68 L693.25,447.18 L693.36,445.68 L693.47,444.19 L693.57,442.69 L693.68,441.19 L693.79,439.69 L693.90,438.20 L694.01,436.70 L694.11,435.20 L694.22,433.71 L694.33,432.21 L694.44,430.71 L694.55,429.21 L694.65,427.72 L694.76,426.22 L694.87,424.72 L694.98,423.23 L695.09,421.73 L695.20,420.23 L695.31,418.74 L695.41,417.24 L695.52,415.74 L695.63,414.25 L695.74,412.75 L695.85,411.25 L695.96,409.76 L696.07,408.26 L696.18,406.76 L696.29,405.27 L696.40,403.77 L696.52,402.28 L696.63,400.78 L696.74,399.28 L696.85,397.79 L696.96,396.29 L697.07,394.80 L697.19,393.30 L697.30,391.81 L697.41,390.31 L697.53,388.81 L697.64,387.32 L697.76,385.82 L697.87,384.33 L697.99,382.83 L698.10,381.34 L698.22,379.84 L698.33,378.35 L698.45,376.85 L698.57,375.36 L698.69,373.86 L698.80,372.37 L698.92,370.88 L699.04,369.38 L699.16,367.89 L699.28,366.39 L699.40,364.90 L699.52,363.41 L699.64,361.91 L699.77,360.42 L699.89,358.93 L700.01,357.43 L700.14,355.94 L700.26,354.45 L700.39,352.95 L700.51,351.46 L700.64,349.97 L700.76,348.48 L700.89,346.98 L701.02,345.49 L701.15,344.00 L701.28,342.51 L701.41,341.01 L701.54,339.52 L701.67,338.03 L701.80,336.54 L701.93,335.05 L702.07,333.56 L702.20,332.07 L702.33,330.58 L702.47,329.08 L702.60,327.59 L702.74,326.10 L702.87,324.61 L703.01,323.12 L703.14,321.63 L703.28,320.14 L703.41,318.65 L703.55,317.16 L703.69,315.67 L703.82,314.18 L703.96,312.69 L704.09,311.20 L704.23,309.71 L704.36,308.22 L704.50,306.73 L704.63,305.24 L704.77,303.75 L704.90,302.26 L705.03,300.77 L705.16,299.28 L705.30,297.79 L705.43,296.29 L705.56,294.80 L705.69,293.31 L705.82,291.82 L705.95,290.33 L706.07,288.84 L706.20,287.35 L706.32,285.86 L706.45,284.37 L706.57,282.88 L706.70,281.38 L706.82,279.89 L706.94,278.40 L707.06,276.91 L707.17,275.42 L707.29,273.92 L707.40,272.43 L707.52,270.94 L707.63,269.44 L707.74,267.95 L707.85,266.46 L707.96,264.96 L708.07,263.47 L708.17,261.98 L708.28,260.48 L708.38,258.99 L708.49,257.49 L708.59,256.00 L708.69,254.50 L708.80,253.00 L708.90,251.51 L709.00,250.01 L709.11,248.51 L709.21,247.01 L709.31,245.52 L709.42,244.02 L709.53,242.52 L709.63,241.02 L709.74,239.52 L709.85,238.02 L709.96,236.52 L710.07,235.01 L710.18,233.51 L710.29,232.01 L710.41,230.50 L710.53,229.00 L710.65,227.50 L710.77,225.99 L710.89,224.48 L711.02,222.98 L711.15,221.47 L711.28,219.96 L711.41,218.45 L711.55,216.94 L711.69,215.43 L711.84,213.92 L712.00,212.42 L712.18,210.91 L712.37,209.41 L712.58,207.92 L712.81,206.43 L713.07,204.95 L713.36,203.48 L713.68,202.02 L714.04,200.57 L714.43,199.14 L714.87,197.71 L715.35,196.30 L715.88,194.91 L716.45,193.54 L717.10,192.30 L717.85,191.45 L718.73,191.24 L719.72,191.74 L720.69,192.72 L721.51,193.92 L722.17,195.24 L722.68,196.67 L723.07,198.19 L723.37,199.77 L723.60,201.38 L723.79,203.01 L723.96,204.64 L724.13,206.24 L724.31,207.82 L724.49,209.38 L724.67,210.93 L724.85,212.45 L725.04,213.96 L725.23,215.46 L725.42,216.95 L725.62,218.43 L725.81,219.91 L726.00,221.39 L726.19,222.86 L726.38,224.33 L726.57,225.81 L726.76,227.28 L726.95,228.76 L727.14,230.24 L727.33,231.71 L727.51,233.19 L727.70,234.67 L727.88,236.14 L728.06,237.62 L728.25,239.10 L728.43,240.58 L728.61,242.06 L728.79,243.54 L728.97,245.02 L729.15,246.50 L729.33,247.98 L729.51,249.46 L729.68,250.95 L729.86,252.43 L730.03,253.91 L730.21,255.40 L730.38,256.88 L730.56,258.36 L730.73,259.85 L730.90,261.33 L731.07,262.82 L731.25,264.30 L731.42,265.79 L731.59,267.27 L731.76,268.76 L731.92,270.25 L732.09,271.73 L732.26,273.22 L732.43,274.71 L732.59,276.20 L732.76,277.68 L732.93,279.17 L733.09,280.66 L733.26,282.15 L733.42,283.64 L733.58,285.13 L733.75,286.62 L733.91,288.11 L734.07,289.60 L734.23,291.09 L734.39,292.58 L734.56,294.07 L734.72,295.56 L734.88,297.05 L735.04,298.54 L735.20,300.03 L735.35,301.52 L735.51,303.02 L735.67,304.51 L735.83,306.00 L735.99,307.49 L736.14,308.98 L736.30,310.48 L736.46,311.97 L736.61,313.46 L736.77,314.95 L736.93,316.45 L737.08,317.94 L737.24,319.43 L737.39,320.93 L737.55,322.42 L737.70,323.91 L737.86,325.41 L738.01,326.90 L738.16,328.39 L738.32,329.89 L738.47,331.38 L738.62,332.88 L738.78,334.37 L738.93,335.86 L739.08,337.36 L739.24,338.85 L739.39,340.34 L739.54,341.84 L739.69,343.33 L739.85,344.83 L740.00,346.32 L740.15,347.81 L740.30,349.31 L740.45,350.80 L740.61,352.29 L740.76,353.79 L740.91,355.28 L741.06,356.78 L741.21,358.27 L741.37,359.76 L741.52,361.26 L741.67,362.75 L741.82,364.24 L741.97,365.74 L742.12,367.23 L742.28,368.72 L742.43,370.22 L742.58,371.71 L742.73,373.20 L742.88,374.69 L743.03,376.19 L743.18,377.68 L743.34,379.17 L743.49,380.67 L743.64,382.16 L743.79,383.65 L743.94,385.14 L744.09,386.64 L744.24,388.13 L744.40,389.62 L744.55,391.11 L744.70,392.61 L744.85,394.10 L745.00,395.59 L745.15,397.08 L745.30,398.57 L745.45,400.07 L745.61,401.56 L745.76,403.05 L745.91,404.54 L746.06,406.04 L746.21,407.53 L746.36,409.02 L746.51,410.51 L746.66,412.00 L746.81,413.49 L746.96,414.99 L747.11,416.48 L747.27,417.97 L747.42,419.46 L747.57,420.95 L747.72,422.44 L747.87,423.94 L748.02,425.43 L748.17,426.92 L748.32,428.41 L748.47,429.90 L748.62,431.39 L748.77,432.89 L748.92,434.38 L749.07,435.87 L749.22,437.36 L749.37,438.85 L749.52,440.34 L749.67,441.83 L749.82,443.33 L749.97,444.82 L750.12,446.31 L750.27,447.80 L750.42,449.29 L750.57,450.78 L750.72,452.27 L750.87,453.76 L751.02,455.25 L751.17,456.75 L751.32,458.24 L751.47,459.73 L751.62,461.22 L751.77,462.71 L751.92,464.20 L752.07,465.69 L752.22,467.18 L752.37,468.67 L752.52,470.16 L752.67,471.66 L752.82,473.15 L752.97,474.64 L753.12,476.13 L753.27,477.62 L753.42,479.11 L753.57,480.60 L753.72,482.09 L753.87,483.58 L754.02,485.07 L754.17,486.56 L754.32,488.06 L754.47,489.55 L754.61,491.04 L754.76,492.53 L754.91,494.02 L755.06,495.51 L755.21,497.00 L755.36,498.49 L755.51,499.98 L755.66,501.47 L755.81,502.96 L755.96,504.45 L756.11,505.95 L756.25,507.44 L756.40,508.93 L756.55,510.42 L756.70,511.91 L756.85,513.40 L757.00,514.89 L757.15,516.38 L757.30,517.87 L757.44,519.36 L757.59,520.85 L757.74,522.35 L757.89,523.84 L758.04,525.33 L758.19,526.82 L758.33,528.31 L758.48,529.80 L758.63,531.29 L758.78,532.78 L758.93,534.27 L759.08,535.76 L759.22,537.26 L759.37,538.75 L759.52,540.24 L759.67,541.73 L759.82,543.22 L759.96,544.71 L760.11,546.20 L760.26,547.69 L760.41,549.18 L760.56,550.68 L760.70,552.17 L760.85,553.66 L761.00,555.15 L761.15,556.64 L761.29,558.13 L761.44,559.62 L761.59,561.11 L761.74,562.61 L761.88,564.10 L762.03,565.59 L762.18,567.08 L762.33,568.57 L762.47,570.06 L762.62,571.55 L762.77,573.05 L762.92,574.54 L763.06,576.03 L763.21,577.52 L763.36,579.01 L763.50,580.50 L763.65,582.00 L763.80,583.49 L763.95,584.98 L764.09,586.47 L764.24,587.96 L764.39,589.46 L764.53,590.95 L764.68,592.44 L764.83,593.93 L764.97,595.42 L765.12,596.92 L765.27,598.41 L765.41,599.90 L765.56,601.39 L765.71,602.88 L765.85,604.38 L766.00,605.87 L766.14,607.36 L766.29,608.85 L766.44,610.35 L766.58,611.84 L766.73,613.33 L766.88,614.82 L767.02,616.32 L767.17,617.81 L767.31,619.30 L767.46,620.80 L767.61,622.29 L767.75,623.78 L767.90,625.27 L768.04,626.77 L768.19,628.26 L768.34,629.75 L768.48,631.25 L768.63,632.74 L768.78,634.23 L768.92,635.73 L769.07,637.22 L769.22,638.71 L769.36,640.20 L769.51,641.70 L769.66,643.19 L769.81,644.68 L769.96,646.18 L770.10,647.67 L770.25,649.16 L770.40,650.66 L770.55,652.15 L770.70,653.64 L770.85,655.13 L771.00,656.63 L771.15,658.12 L771.30,659.61 L771.45,661.11 L771.60,662.60 L771.75,664.09 L771.91,665.58 L772.06,667.08 L772.21,668.57 L772.37,670.06 L772.52,671.55 L772.67,673.05 L772.83,674.54 L772.98,676.03 L773.14,677.52 L773.30,679.02 L773.45,680.51 L773.61,682.00 L773.77,683.49 L773.93,684.98 L774.09,686.48 L774.24,687.97 L774.41,689.46 L774.57,690.95 L774.73,692.44 L774.89,693.93 L775.05,695.42 L775.22,696.91 L775.38,698.41 L775.55,699.90 L775.71,701.39 L775.88,702.88 L776.04,704.37 L776.21,705.86 L776.38,707.35 L776.55,708.84 L776.72,710.33 L776.89,711.82 L777.06,713.31 L777.24,714.80 L777.41,716.29 L777.58,717.78 L777.76,719.27 L777.94,720.76 L778.11,722.24 L778.29,723.73 L778.47,725.22 L778.65,726.71 L778.83,728.20 L779.01,729.69 L779.19,731.17 L779.38,732.66 L779.56,734.15 L779.75,735.64 L779.93,737.12 L780.12,738.61 L780.31,740.10 L780.50,741.59 L780.69,743.07 L780.88,744.56 L781.08,746.04 L781.27,747.53 L781.47,749.02 L781.66,750.50 L781.86,751.99 L782.06,753.47 L782.26,754.96 L782.46,756.44 L782.66,757.93 L782.87,759.41 L783.07,760.89 L783.28,762.38 L783.49,763.86 L783.70,765.34 L783.91,766.83 L784.12,768.31 L784.33,769.79 L784.55,771.28 L784.76,772.76 L784.98,774.24 L785.20,775.72 L785.42,777.20 L785.64,778.68 L785.86,780.16 L786.08,781.64 L786.31,783.12 L786.53,784.61 L786.76,786.08 L786.99,787.56 L787.22,789.04 L787.46,790.52 L787.69,792.00 L787.93,793.48 L788.16,794.96 L788.40,796.44 L788.64,797.91 L788.89,799.39 L789.13,800.87 L789.37,802.34 L789.62,803.82 L789.87,805.30 L790.12,806.77 L790.37,808.25 L790.63,809.72 L790.88,811.20 L791.14,812.67 L791.40,814.15 L791.66,815.62 L791.92,817.09 L792.18,818.57 L792.45,820.04 L792.72,821.51 L792.99,822.98 L793.26,824.46 L793.53,825.93 L793.80,827.40 L794.08,828.87 L794.36,830.34 L794.64,831.81 L794.92,833.28 L795.20,834.75 L795.49,836.22 L795.77,837.69 L796.06,839.16 L796.35,840.63 L796.64,842.10 L796.94,843.57 L797.23,845.04 L797.53,846.51 L797.83,847.98 L798.13,849.45 L798.43,850.91 L798.74,852.38 L799.05,853.85 L799.35,855.32 L799.66,856.78 L799.98,858.25 L800.29,859.72 L800.61,861.19 L800.92,862.65 L801.24,864.12 L801.57,865.58 L801.89,867.05 L802.22,868.52 L802.54,869.98 L802.87,871.45 L803.20,872.92 L803.54,874.38 L803.87,875.85 L804.21,877.31 L804.55,878.78 L804.89,880.24 L805.23,881.71 L805.58,883.17 L805.92,884.64 L806.27,886.10 L806.62,887.57 L806.98,889.03 L807.34,890.49 L807.70,891.96 L808.07,893.42 L808.44,894.88 L808.81,896.33 L809.19,897.79 L809.57,899.25 L809.96,900.70 L810.36,902.15 L810.76,903.60 L811.16,905.05 L811.58,906.49 L812.00,907.93 L812.42,909.37 L812.86,910.81 L813.30,912.24 L813.75,913.68 L814.20,915.10 L814.67,916.53 L815.14,917.95 L815.63,919.36 L816.12,920.78 L816.62,922.19 L817.13,923.59 L817.65,924.99 L818.18,926.39 L818.73,927.78 L819.28,929.17 L819.84,930.55 L820.42,931.93 L821.01,933.30 L821.60,934.66 L822.22,936.03 L822.84,937.38 L823.48,938.73 L824.13,940.08 L824.79,941.41 L825.47,942.74 L826.16,944.06 L826.87,945.37 L827.60,946.68 L828.34,947.97 L829.10,949.25 L829.87,950.52 L830.67,951.78 L831.48,953.03 L832.32,954.26 L833.17,955.48 L834.04,956.68 L834.94,957.87 L835.86,959.05 L836.79,960.20 L837.76,961.34 L838.74,962.46 L839.75,963.57 L840.78,964.65 L841.84,965.72 L842.93,966.76 L844.03,967.78 L845.17,968.79 L846.32,969.77 L847.49,970.73 L848.69,971.66 L849.90,972.58 L851.14,973.47 L852.39,974.33 L853.66,975.17 L854.94,975.99 L856.24,976.78 L857.56,977.54 L858.88,978.28 L860.22,978.99 L861.58,979.67 L862.94,980.33 L864.31,980.96 L865.69,981.55 L867.08,982.12 L868.48,982.66 L869.88,983.18 L871.30,983.66 L872.71,984.12 L874.14,984.55 L875.57,984.97 L877.01,985.35 L878.45,985.72 L879.90,986.07 L881.35,986.39 L882.80,986.70 L884.27,986.99 L885.73,987.27 L887.20,987.52 L888.67,987.77 L890.14,988.00 L891.62,988.22 L893.10,988.42 L894.58,988.62 L896.07,988.81 L897.55,988.99 L899.04,989.16 L900.53,989.33 L902.02,989.49 L903.51,989.64 L904.99,989.79 L906.49,989.94 L907.98,990.08 L909.47,990.21 L910.96,990.34 L912.45,990.47 L913.95,990.59 L915.44,990.70 L916.93,990.81 L918.43,990.92 L919.93,991.02 L921.42,991.12 L922.92,991.22 L924.41,991.31 L925.91,991.39 L927.41,991.47 L928.91,991.55 L930.41,991.63 L931.91,991.70 L933.41,991.76 L934.91,991.83 L936.41,991.89 L937.91,991.95 L939.41,992.00 L940.91,992.05 L942.41,992.10 L943.91,992.14 L945.41,992.19 L946.91,992.23 L948.42,992.26 L949.92,992.30 L951.42,992.33 L952.92,992.36 L954.43,992.39 L955.93,992.41 L957.43,992.43 L958.94,992.45 L960.44,992.47 L961.94,992.49 L963.45,992.50 L964.95,992.52 L966.45,992.53 L967.96,992.54 L969.46,992.55 L970.96,992.56 L972.46,992.56 L973.97,992.57 L975.47,992.57 L976.97,992.58 L978.48,992.58 L979.98,992.58 L981.48,992.58 L982.98,992.58 L984.49,992.58 L985.99,992.58 L987.49,992.58 L988.99,992.58 L990.49,992.58 L991.99,992.58 L993.49,992.58 L994.99,992.57 L996.49,992.57 L997.99,992.57 L999.49,992.57 L1000.99,992.57 L1002.49,992.57 L1003.99,992.57 L1005.48,992.58 L1006.98,992.58 L1008.48,992.58 L1009.97,992.59 L1011.47,992.59 L1012.96,992.60 L1014.46,992.61 L1015.95,992.62 L1017.45,992.63 L1018.94,992.64 L1020.43,992.66 L1021.92,992.67 L1023.41,992.69 L1024.90,992.71 L1026.39,992.73 L1034.0,993.0 L1036.5,983.0 L1041.0,983.0 L1043.0,993.0 L1060.0,993.4 L1100.0,993.5 L1150.0,993.5 L1160.8,990.3 L1169.8,995.8 L1178.8,990.3 L1186.4,995.8 L1194.1,990.3 L1200.3,995.8 L1206.6,990.3 L1212.5,995.8 L1218.4,990.3 L1224.0,995.8 L1229.5,990.3 L1234.8,995.8 L1240.0,990.3 L1245.4,995.8 L1250.8,990.3 L1255.4,995.8 L1260.0,990.3 L1264.5,995.8 L1269.0,990.3 L1273.5,995.8 L1278.0,990.3 L1282.0,995.8 L1285.9,990.3 L1290.1,995.8 L1294.3,990.3 L1302.0,994.0 L1364.0,994.0" stroke="#0f4aae" stroke-width="5.0"/>
</g>
<g stroke="#0a0a0a" stroke-width="5.4" fill="none">
<rect x="282.3" y="60.3" width="1082.5" height="963.6"/>
<line x1="260.8" y1="1000.5" x2="282.3" y2="1000.5"/>
<line x1="1343.3" y1="1000.5" x2="1364.8" y2="1000.5"/>
<line x1="260.8" y1="765.5" x2="282.3" y2="765.5"/>
<line x1="1343.3" y1="765.5" x2="1364.8" y2="765.5"/>
<line x1="260.8" y1="530.4" x2="282.3" y2="530.4"/>
<line x1="1343.3" y1="530.4" x2="1364.8" y2="530.4"/>
<line x1="260.8" y1="295.4" x2="282.3" y2="295.4"/>
<line x1="1343.3" y1="295.4" x2="1364.8" y2="295.4"/>
<line x1="260.8" y1="60.3" x2="282.3" y2="60.3"/>
<line x1="1343.3" y1="60.3" x2="1364.8" y2="60.3"/>
<line x1="271.3" y1="883.0" x2="282.3" y2="883.0"/>
<line x1="1352.8" y1="883.0" x2="1364.8" y2="883.0"/>
<line x1="271.3" y1="647.9" x2="282.3" y2="647.9"/>
<line x1="1352.8" y1="647.9" x2="1364.8" y2="647.9"/>
<line x1="271.3" y1="412.9" x2="282.3" y2="412.9"/>
<line x1="1352.8" y1="412.9" x2="1364.8" y2="412.9"/>
<line x1="271.3" y1="177.8" x2="282.3" y2="177.8"/>
<line x1="1352.8" y1="177.8" x2="1364.8" y2="177.8"/>
<line x1="462.0" y1="1023.9" x2="462.0" y2="1045.4"/>
<line x1="462.0" y1="60.3" x2="462.0" y2="81.3"/>
<line x1="687.7" y1="1023.9" x2="687.7" y2="1045.4"/>
<line x1="687.7" y1="60.3" x2="687.7" y2="81.3"/>
<line x1="913.4" y1="1023.9" x2="913.4" y2="1045.4"/>
<line x1="913.4" y1="60.3" x2="913.4" y2="81.3"/>
<line x1="1139.1" y1="1023.9" x2="1139.1" y2="1045.4"/>
<line x1="1139.1" y1="60.3" x2="1139.1" y2="81.3"/>
<line x1="1364.8" y1="1023.9" x2="1364.8" y2="1045.4"/>
<line x1="1364.8" y1="60.3" x2="1364.8" y2="81.3"/>
<line x1="349.1" y1="1023.9" x2="349.1" y2="1034.9"/>
<line x1="349.1" y1="60.3" x2="349.1" y2="72.8"/>
<line x1="574.9" y1="1023.9" x2="574.9" y2="1034.9"/>
<line x1="574.9" y1="60.3" x2="574.9" y2="72.8"/>
<line x1="800.5" y1="1023.9" x2="800.5" y2="1034.9"/>
<line x1="800.5" y1="60.3" x2="800.5" y2="72.8"/>
<line x1="1026.2" y1="1023.9" x2="1026.2" y2="1034.9"/>
<line x1="1026.2" y1="60.3" x2="1026.2" y2="72.8"/>
<line x1="1252.0" y1="1023.9" x2="1252.0" y2="1034.9"/>
<line x1="1252.0" y1="60.3" x2="1252.0" y2="72.8"/>
</g>
<line x1="862.0" y1="406.0" x2="786.2" y2="467.4" stroke="#ff0012" stroke-width="2.8"/><polygon points="767.5,480.7 781.6,461.6 790.8,473.2" fill="#ff0012"/>
<line x1="876.8" y1="627.6" x2="796.5" y2="673.8" stroke="#3b5db5" stroke-width="3.2"/><polygon points="769.5,689.8 792.4,667.3 800.6,680.4" fill="#3b5db5"/>
<line x1="878.6" y1="868.7" x2="770.9" y2="966.7" stroke="#000000" stroke-width="2.4"/><polygon points="754.4,981.5 767.0,962.4 774.8,971.0" fill="#000000"/>
<text transform="translate(250.60,1026.50) scale(1,1.020)" font-size="80.0" fill="#000" text-anchor="end" font-family="Liberation Sans, sans-serif" >0.0</text>
<text transform="translate(250.60,791.45) scale(1,1.020)" font-size="80.0" fill="#000" text-anchor="end" font-family="Liberation Sans, sans-serif" >0.2</text>
<text transform="translate(250.60,556.40) scale(1,1.020)" font-size="80.0" fill="#000" text-anchor="end" font-family="Liberation Sans, sans-serif" >0.4</text>
<text transform="translate(250.60,321.35) scale(1,1.020)" font-size="80.0" fill="#000" text-anchor="end" font-family="Liberation Sans, sans-serif" >0.6</text>
<text transform="translate(250.60,86.30) scale(1,1.020)" font-size="80.0" fill="#000" text-anchor="end" font-family="Liberation Sans, sans-serif" >0.8</text>
<text transform="translate(461.60,1119.60) scale(1,1.020)" font-size="80.0" fill="#000" text-anchor="middle" font-family="Liberation Sans, sans-serif" >400</text>
<text transform="translate(687.30,1119.60) scale(1,1.020)" font-size="80.0" fill="#000" text-anchor="middle" font-family="Liberation Sans, sans-serif" >500</text>
<text transform="translate(913.00,1119.60) scale(1,1.020)" font-size="80.0" fill="#000" text-anchor="middle" font-family="Liberation Sans, sans-serif" >600</text>
<text transform="translate(1138.70,1119.60) scale(1,1.020)" font-size="80.0" fill="#000" text-anchor="middle" font-family="Liberation Sans, sans-serif" >700</text>
<text transform="translate(1364.40,1119.60) scale(1,1.020)" font-size="80.0" fill="#000" text-anchor="middle" font-family="Liberation Sans, sans-serif" >800</text>
<text transform="translate(513.60,1206.40) scale(1,1.000)" font-size="83.0" fill="#000" text-anchor="start" font-family="Liberation Sans, sans-serif" >Wavelength / nm</text>
<text transform="translate(89.6,731.5) rotate(-90) scale(1,1.0)" font-size="83.4" fill="#000" font-family="Liberation Sans, sans-serif">Absorption</text>
<text transform="translate(868.25,416.00) scale(1,1.033)" font-size="77.4" fill="#ff0012" text-anchor="start" font-family="Liberation Sans, sans-serif" >BDP-C</text>
<text transform="translate(1107.30,442.40) scale(1,1.020)" font-size="46.0" fill="#ff0012" text-anchor="start" font-family="Liberation Sans, sans-serif" >60</text>
<rect x="1161.1" y="393.0" width="20.9" height="6.7" fill="#ff0012"/>
<polygon points="1208.1,361 1213.2,361 1213.2,416.4 1206.5,416.4 1206.5,372.9 1192.9,380.8 1192.9,374.6" fill="#ff0012"/>
<text transform="translate(877.55,611.80) scale(1,1.030)" font-size="77.4" fill="#3b5db5" text-anchor="start" font-family="Liberation Sans, sans-serif" >BDP-S</text>
<text transform="translate(899.50,846.40) scale(1,1.080)" font-size="84.0" fill="#000" text-anchor="start" font-family="Liberation Sans, sans-serif" >C</text>
<text transform="translate(961.70,876.10) scale(1,1.070)" font-size="50.0" fill="#000" text-anchor="start" font-family="Liberation Sans, sans-serif" letter-spacing="1.6">60</text>
</g>
</svg>
</body></html>
